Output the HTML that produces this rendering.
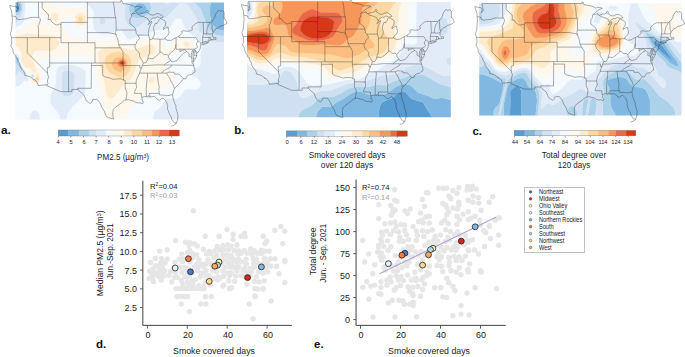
<!DOCTYPE html><html><head><meta charset="utf-8"><style>
*{margin:0;padding:0;box-sizing:border-box}
html,body{width:685px;height:357px;background:#fff;overflow:hidden}
body{position:relative;font-family:"Liberation Sans",sans-serif;color:#1a1a1a}
svg{position:absolute;overflow:visible}
.t{position:absolute;white-space:nowrap;line-height:1}
.cbl{text-align:center;color:#333;letter-spacing:-0.1px}
.cbt{text-align:center;font-size:9.2px;color:#222;letter-spacing:-0.15px}
.yt{text-align:right;font-size:8.3px;color:#222;letter-spacing:0.35px}
.xt{text-align:center;font-size:8.3px;color:#222;letter-spacing:0.35px}
.pl{font-weight:bold;font-size:11.5px;color:#111}
.lg{font-size:6.1px;color:#222;letter-spacing:-0.1px}
.leg{position:absolute;left:524.4px;top:187.0px;width:60.3px;height:66.0px;border:0.8px solid #c2c2c2}
.r2{font-size:7.4px;letter-spacing:-0.2px}
.yl{position:absolute;font-size:9.0px;color:#222;text-align:center;transform:rotate(-90deg);transform-origin:center center;white-space:nowrap;line-height:1;width:120px}
.xl{font-size:9.0px;color:#222;text-align:center;width:120px}
</style></head><body>
<svg class="map" style="left:15px;top:2px" width="209" height="118">
<defs><clipPath id="clipa"><rect x="0" y="0" width="208.5" height="117.2"/></clipPath></defs>
<g transform="translate(0.50,0.40)">
<g clip-path="url(#clipa)"><rect x="0" y="0" width="208.5" height="117.2" fill="#f5faff"/>
<path d="M1.6,7.6L3.1,7.4L4.0,5.3L3.1,3.1L1.6,2.5L0.5,3.3L0.2,5.3Z" fill="#589cd2" stroke="#589cd2" stroke-width="0.3" fill-rule="evenodd"/>
<path d="M203.7,27.7L207.5,28.1L211.2,27.2L211.2,-3.8L195.9,-3.8L193.9,8.4L195.1,16.5L196.5,20.5L198.4,23.8L200.7,26.0ZM122.3,11.5L126.8,11.6L130.4,9.4L131.4,7.3L131.3,5.3L129.0,2.2L126.8,1.1L123.8,0.7L121.5,1.6L119.6,3.3L118.6,5.3L118.8,8.4L120.2,10.4ZM0.1,9.9L2.4,10.2L4.6,8.5L5.5,6.3L5.3,3.3L2.0,-3.8L-3.7,-3.8L-3.7,3.7L-1.3,8.4ZM1.2,7.3L0.5,6.3L0.2,4.3L0.9,2.8L2.4,2.6L3.9,4.2L3.9,6.3L3.1,7.4Z" fill="#80b8e1" stroke="#80b8e1" stroke-width="0.3" fill-rule="evenodd"/>
<path d="M17.5,74.3L17.5,73.3L17.5,73.2L17.4,73.3ZM6.1,67.9L6.2,66.2L2.9,59.1L3.0,56.0L2.4,55.0L-0.6,54.7L-1.1,56.0L-0.1,60.1ZM201.4,32.9L206.0,33.7L211.2,32.8L211.2,27.2L206.7,28.2L203.5,27.6L199.9,25.4L196.9,21.4L195.1,16.5L193.9,9.4L195.9,-3.8L177.6,-3.8L178.3,0.2L183.3,4.3L185.6,7.3L190.7,21.5L192.7,25.6L196.9,30.3ZM119.2,15.5L123.0,16.1L127.5,15.0L132.1,12.5L134.8,9.4L135.7,6.3L135.3,3.3L131.4,-3.8L116.9,-3.8L114.0,3.3L113.4,8.4L114.9,12.4L117.0,14.4ZM121.9,11.4L119.3,9.4L118.5,7.3L118.6,5.3L120.0,2.8L122.3,1.2L124.5,0.7L127.5,1.4L129.8,2.9L130.9,4.3L131.5,6.3L130.4,9.4L126.8,11.6L123.8,11.9ZM0.1,13.5L3.9,11.7L5.4,10.0L6.5,7.3L6.4,2.3L4.1,-3.8L2.0,-3.8L5.5,4.3L5.2,7.3L3.9,9.3L1.6,10.3L0.1,9.9L-1.3,8.4L-3.7,3.7L-3.7,10.3L-1.4,12.8Z" fill="#acd2ea" stroke="#acd2ea" stroke-width="0.3" fill-rule="evenodd"/>
<path d="M47.6,93.7L49.9,94.3L53.6,93.6L56.7,92.4L58.3,90.5L59.4,73.3L58.9,71.2L56.7,69.1L52.9,68.4L49.1,68.7L47.6,69.3L46.3,71.2L46.4,89.5ZM9.9,74.5L10.2,73.3L9.7,71.2L4.1,60.1L3.8,56.0L3.1,54.3L-2.1,51.1L-3.5,50.9L-3.7,72.7L2.4,72.5L3.1,71.2L3.1,69.0L3.9,68.9L7.7,73.0ZM5.4,67.2L-0.1,60.1L-1.1,56.0L-0.6,54.7L2.4,55.0L3.0,56.0L2.9,59.1L6.2,66.2L6.1,67.9ZM15.9,74.3L17.5,75.1L18.7,74.3L18.7,73.3L17.5,72.4L16.7,72.5L15.9,73.3ZM17.4,74.3L17.4,73.3L17.5,73.2L17.5,74.3ZM202.2,39.9L206.0,40.1L211.2,39.6L211.2,32.8L206.0,33.7L202.9,33.4L198.4,31.5L195.1,28.6L191.1,22.6L185.6,7.3L183.3,4.3L178.3,0.2L177.6,-3.8L155.9,-3.8L155.4,-0.5L153.2,1.2L150.9,1.9L148.1,0.2L147.5,-3.8L131.4,-3.8L135.3,3.3L135.7,6.3L134.8,9.4L132.8,11.8L129.8,14.0L123.0,16.1L117.7,14.8L115.8,13.4L114.3,11.4L113.4,8.4L113.5,5.3L116.9,-3.8L111.3,-3.8L109.1,6.3L109.2,14.4L110.5,19.5L113.2,23.4L114.7,24.7L118.5,25.7L122.3,24.9L126.2,21.5L131.2,18.5L140.4,15.1L142.6,14.9L147.9,15.9L150.2,15.5L164.5,1.2L166.0,0.4L168.3,0.1L170.5,0.9L173.0,3.3L179.8,13.4L182.3,19.5L182.7,26.6L184.1,29.6L197.7,38.5ZM86.1,22.6L88.7,21.5L90.0,19.5L89.1,16.5L87.6,15.2L86.1,14.9L84.6,16.3L83.7,19.5L84.6,21.8ZM-2.9,20.9L0.1,20.9L2.2,19.5L7.1,10.4L8.1,4.3L6.4,-3.8L4.1,-3.8L6.1,1.2L6.8,4.3L6.5,7.3L5.4,10.0L3.1,12.3L0.1,13.5L-1.4,12.8L-3.7,10.3L-3.7,20.9Z" fill="#cee0f2" stroke="#cee0f2" stroke-width="0.3" fill-rule="evenodd"/>
<path d="M14.4,120.9L24.0,120.9L24.5,116.9L24.1,112.8L22.7,109.9L20.5,108.1L18.2,108.0L15.1,110.8L13.9,115.8ZM43.8,120.9L51.7,120.9L51.2,115.8L52.3,110.8L56.7,104.9L68.1,93.5L69.7,90.5L70.4,71.2L70.0,69.2L68.0,66.7L61.2,63.4L55.9,62.5L46.9,62.7L43.1,64.2L41.0,67.2L40.2,81.4L38.6,86.0L35.1,91.5L34.6,98.6L35.8,102.7L43.3,111.8L44.2,115.8ZM47.5,93.5L46.4,89.5L46.3,71.2L47.6,69.3L49.1,68.7L52.9,68.4L56.7,69.1L58.9,71.2L59.4,73.3L58.3,90.5L56.7,92.4L53.6,93.6L49.1,94.3ZM138.1,120.9L211.2,120.9L211.2,39.6L204.4,40.1L199.2,39.2L184.2,29.7L182.9,27.6L182.3,19.5L180.3,14.4L174.3,4.9L169.8,0.4L167.5,0.1L164.5,1.2L150.2,15.5L147.1,15.9L141.9,14.8L138.8,15.5L129.4,19.5L122.3,24.9L118.5,25.7L116.2,25.3L114.0,24.2L111.1,20.5L109.7,17.5L109.0,12.4L109.0,7.3L111.3,-3.8L69.4,-3.8L70.1,0.2L75.3,5.3L77.6,8.4L78.1,10.4L77.4,19.5L77.8,24.8L79.7,28.6L83.1,30.7L88.3,31.9L94.4,31.7L96.8,30.7L101.3,27.6L104.2,26.9L106.4,28.9L111.7,36.3L114.0,37.7L121.5,34.5L134.2,30.7L141.1,27.8L152.4,26.6L155.4,24.4L157.9,19.5L160.0,17.1L161.5,16.3L163.7,16.3L166.0,17.5L168.7,24.6L172.9,29.7L184.0,37.8L186.7,40.8L186.8,44.9L184.6,52.0L185.2,59.1L184.8,61.4L183.0,64.1L177.3,67.7L175.7,70.2L175.8,71.3L177.1,73.3L182.0,76.3L184.1,78.3L185.1,81.4L184.1,84.4L182.6,86.1L180.3,87.2L172.0,86.7L169.8,87.2L167.6,89.5L164.2,94.5L161.5,96.4L153.2,95.8L150.9,96.6L145.6,104.2L140.4,108.1L138.4,110.8L137.7,115.8ZM85.6,22.6L83.8,20.5L83.8,18.5L85.3,15.2L86.8,15.0L89.1,16.5L90.0,19.5L88.7,21.5ZM-2.9,84.2L3.1,83.9L5.4,82.6L8.4,78.7L9.2,78.3L12.2,79.4L13.0,78.3L12.5,75.3L11.0,71.2L5.2,61.1L3.9,54.0L2.4,52.1L-3.7,48.1L-3.7,51.2L-2.9,50.8L3.1,54.3L3.8,56.0L4.1,60.1L9.3,70.2L10.2,73.3L9.9,74.5L9.2,74.3L3.9,68.9L3.1,69.0L3.1,71.2L2.4,72.5L-3.7,72.7L-3.7,84.2ZM15.9,75.6L17.5,75.8L19.0,74.8L19.4,73.3L18.8,72.2L17.5,71.6L15.6,72.2L14.9,74.3ZM15.9,74.3L15.9,73.3L16.7,72.5L17.5,72.4L18.7,73.3L18.7,74.3L17.5,75.1ZM-2.9,25.2L0.1,25.1L3.1,24.0L6.8,21.5L8.2,19.5L10.2,6.3L9.1,-3.8L6.4,-3.8L8.1,4.3L8.0,7.3L6.9,10.9L1.6,20.1L0.1,20.9L-3.7,20.9L-3.7,25.2ZM149.4,1.4L151.7,1.8L154.7,0.2L155.6,-0.8L155.9,-3.8L147.5,-3.8L147.6,-0.8Z" fill="#e2ecf8" stroke="#e2ecf8" stroke-width="0.3" fill-rule="evenodd"/>
<path d="M-2.9,120.9L14.4,120.9L13.9,116.9L14.7,111.8L16.7,108.9L19.0,107.8L22.0,109.2L23.8,111.8L24.5,116.9L24.0,120.9L43.6,120.9L44.3,116.9L43.7,112.8L42.0,109.8L35.2,101.6L34.5,97.6L34.8,92.5L35.6,90.3L38.6,86.0L40.1,82.0L40.5,70.2L41.6,65.9L43.1,64.2L45.3,63.1L52.1,62.4L58.2,62.7L64.2,64.5L68.7,67.3L70.0,69.2L70.4,71.2L70.0,87.5L69.4,91.5L65.0,97.0L56.7,104.9L52.3,110.8L51.2,115.8L51.7,120.9L88.5,120.9L86.3,102.7L85.4,90.5L81.2,75.3L79.3,60.1L77.8,56.2L76.3,54.0L74.8,53.1L71.7,52.8L60.4,53.8L49.1,53.8L39.3,55.5L29.5,55.6L27.3,56.3L25.0,58.1L24.1,61.1L26.0,74.3L25.9,77.3L24.2,80.6L22.7,82.0L19.7,83.4L17.5,82.1L15.3,78.3L15.4,77.3L19.2,75.3L20.1,73.3L19.8,72.2L17.5,70.8L13.7,71.7L12.9,71.2L8.4,65.3L6.1,61.4L5.4,59.1L5.1,55.0L3.9,51.8L0.9,48.2L-3.7,46.0L-3.7,48.1L2.4,52.1L3.9,54.0L5.2,61.1L11.0,71.2L12.5,75.3L13.0,78.3L12.2,79.4L9.2,78.3L8.4,78.7L5.4,82.6L3.1,83.9L-3.7,84.2L-3.7,120.9ZM15.5,75.3L14.9,74.3L15.6,72.2L17.5,71.6L19.0,72.4L19.3,74.3L18.5,75.3L16.7,75.8ZM110.2,120.9L137.9,120.9L137.8,113.8L138.8,109.9L140.4,108.1L145.6,104.2L150.9,96.6L153.2,95.8L161.5,96.4L164.2,94.5L167.6,89.5L169.8,87.2L172.0,86.7L179.6,87.3L181.8,86.6L183.4,85.4L184.9,82.4L184.7,79.3L182.6,76.7L177.1,73.3L175.8,71.3L175.7,70.2L177.3,67.7L183.3,63.8L185.0,61.1L184.6,52.0L187.0,43.8L187.0,41.8L186.2,39.8L172.9,29.7L168.7,24.6L166.0,17.5L164.6,16.5L163.0,16.2L160.7,16.5L159.5,17.5L155.4,24.4L153.2,26.3L150.9,27.0L141.1,27.8L134.2,30.7L121.5,34.5L114.0,37.7L111.7,36.3L106.4,28.9L104.2,26.9L101.3,27.6L96.8,30.7L94.4,31.7L89.8,32.0L84.6,31.3L80.8,29.6L78.3,26.6L77.4,20.5L78.0,9.4L76.2,6.3L70.1,0.2L69.4,-3.8L32.2,-3.8L32.4,-0.8L33.1,0.2L37.8,2.8L53.6,5.6L65.7,4.9L68.7,6.5L71.5,9.4L73.1,14.4L73.0,20.5L71.0,24.1L68.0,25.8L65.0,25.9L60.4,23.6L58.6,21.5L55.9,16.4L53.6,14.5L49.9,14.6L48.4,15.5L46.9,17.6L45.5,20.5L45.9,22.6L51.4,31.7L53.6,34.1L56.7,35.9L67.2,35.5L78.5,37.7L90.6,38.5L103.4,37.3L109.4,41.8L114.0,43.3L117.0,42.5L124.5,38.3L141.1,34.7L143.4,35.1L146.3,36.8L150.9,43.1L152.4,44.0L153.9,44.0L155.4,43.1L157.4,39.8L161.1,36.8L164.5,35.0L167.5,34.2L169.8,34.1L172.0,35.0L175.0,37.1L177.6,39.8L177.9,41.8L176.5,44.9L175.0,46.5L172.0,48.3L168.3,48.9L160.0,47.6L157.7,48.4L148.4,60.1L148.4,62.1L149.4,63.8L156.2,69.7L157.8,72.2L158.3,77.3L156.8,81.4L153.2,83.5L145.6,85.3L139.6,88.1L131.3,89.5L128.3,91.3L110.6,110.8L109.2,115.8L109.3,118.9L109.8,120.9ZM-2.9,29.0L0.9,28.9L8.4,26.0L12.3,23.6L16.7,18.5L19.0,17.0L20.5,16.8L22.7,17.4L25.7,20.8L28.0,22.2L29.5,22.3L31.8,20.9L31.6,18.5L27.5,13.4L26.5,11.4L25.7,5.3L25.5,-3.8L9.1,-3.8L10.2,6.3L8.2,19.5L6.1,22.1L2.4,24.4L0.1,25.1L-3.7,25.2L-3.7,29.0Z" fill="#f5faff" stroke="#f5faff" stroke-width="0.3" fill-rule="evenodd"/>
<path d="M89.1,120.9L109.8,120.9L109.2,115.8L110.6,110.8L128.3,91.3L131.3,89.5L139.6,88.1L145.6,85.3L153.2,83.5L156.8,81.4L158.3,77.3L157.8,72.2L156.2,69.7L149.4,63.8L148.4,62.1L148.4,60.1L157.7,48.4L160.0,47.6L168.3,48.9L172.0,48.3L175.0,46.5L176.5,44.9L177.9,41.8L177.6,39.8L175.0,37.1L172.0,35.0L169.8,34.1L167.5,34.2L164.5,35.0L161.1,36.8L157.4,39.8L155.4,43.1L153.9,44.0L152.4,44.0L150.9,43.1L146.3,36.8L143.4,35.1L141.1,34.7L124.5,38.3L117.0,42.5L114.0,43.3L109.4,41.8L103.4,37.3L90.6,38.5L78.5,37.7L67.2,35.5L56.7,35.9L54.4,34.7L52.1,32.6L46.5,23.6L45.5,20.5L46.3,18.5L49.1,15.0L51.4,14.2L53.6,14.5L55.2,15.4L58.6,21.5L61.2,24.1L65.7,26.0L68.7,25.6L71.7,23.2L73.2,19.5L73.0,13.4L72.1,10.4L71.0,8.7L68.0,6.0L65.7,4.9L53.6,5.6L38.6,3.0L33.1,0.2L32.4,-0.8L32.2,-3.8L25.5,-3.8L25.7,5.3L26.5,11.4L27.5,13.4L31.6,18.5L31.8,20.9L29.5,22.3L28.0,22.2L25.7,20.8L22.7,17.4L20.5,16.8L19.0,17.0L16.7,18.5L12.3,23.6L8.4,26.0L0.9,28.9L-3.7,29.0L-3.7,34.2L0.9,34.0L10.7,31.7L37.1,33.4L39.8,34.7L42.8,37.8L43.9,39.8L43.4,41.8L40.4,45.9L37.8,47.9L34.0,48.3L28.0,47.8L22.7,47.9L19.7,48.5L17.5,49.9L16.7,52.0L17.0,56.0L18.2,62.0L20.5,67.5L20.5,70.1L17.9,69.2L14.4,65.8L10.7,65.0L8.4,63.1L6.6,59.1L5.5,48.9L3.1,45.3L0.9,43.8L-3.7,43.2L-3.7,46.0L0.9,48.2L3.9,51.8L5.1,55.0L5.4,59.1L6.1,61.4L8.4,65.3L12.9,71.2L13.7,71.7L17.5,70.8L19.8,72.2L20.1,73.3L19.2,75.3L15.4,77.3L15.3,78.3L17.5,82.1L19.7,83.4L22.7,82.0L24.2,80.6L25.9,77.3L26.0,74.3L24.1,61.1L25.0,58.1L27.3,56.3L29.5,55.6L39.3,55.5L49.1,53.8L60.4,53.8L71.7,52.8L74.8,53.1L76.3,54.0L77.8,56.2L79.3,60.1L81.2,75.3L85.4,90.5L86.4,103.7L88.5,120.9ZM93.4,95.6L92.1,94.0L91.2,91.5L88.6,77.3L84.2,63.1L82.7,50.9L84.1,47.9L85.3,46.9L88.3,45.7L98.1,44.2L103.4,44.3L112.5,47.3L116.2,47.6L121.5,46.9L132.8,42.5L136.6,42.6L138.8,43.7L139.4,46.9L138.9,48.9L137.6,50.9L133.6,53.3L126.0,55.4L123.0,58.0L117.6,72.2L114.0,78.3L106.6,84.4L101.3,91.5L98.3,94.5L95.1,96.2ZM134.7,80.4L133.4,78.3L134.1,76.3L135.8,75.2L138.1,75.7L139.1,77.3L138.7,79.3L136.6,80.7ZM18.3,79.3L17.7,78.3L17.9,77.3L19.9,75.3L21.2,72.4L22.0,71.9L23.5,73.3L24.3,75.3L23.8,78.3L21.2,80.1L19.7,80.1ZM169.4,43.8L168.4,41.8L168.4,40.8L169.2,39.8L171.3,39.4L173.5,40.7L173.9,42.8L172.8,44.2L171.3,44.6ZM63.0,21.5L61.2,20.1L60.2,18.5L60.0,14.4L61.2,12.2L62.7,10.9L66.5,10.4L68.7,12.4L69.8,14.4L70.2,17.5L69.7,19.5L68.1,21.5L66.5,22.4ZM37.0,17.5L35.7,14.4L36.3,11.9L38.1,10.4L40.8,10.9L42.6,13.4L42.3,16.5L40.1,18.3L38.6,18.3Z" fill="#fef7ec" stroke="#fef7ec" stroke-width="0.3" fill-rule="evenodd"/>
<path d="M93.6,95.8L95.9,96.0L98.9,94.1L106.6,84.4L114.7,77.3L117.6,72.2L122.3,59.6L123.8,57.1L126.0,55.4L133.6,53.3L137.6,50.9L138.9,48.9L139.5,45.9L139.0,43.8L138.1,43.1L135.8,42.5L132.1,42.6L121.5,46.9L117.0,47.6L112.5,47.3L103.4,44.3L97.4,44.3L87.8,45.9L85.3,46.9L83.8,48.2L82.7,50.9L84.4,64.1L88.6,77.3L91.3,92.2ZM103.1,75.3L95.9,71.5L93.6,69.7L90.7,65.1L89.3,60.1L90.5,55.0L93.0,52.0L95.9,50.5L101.9,49.5L107.2,50.1L112.5,52.4L115.2,56.0L115.9,60.1L114.9,66.2L112.2,71.2L107.9,74.6L104.9,75.5ZM135.1,80.5L137.3,80.5L138.8,79.0L138.8,76.7L137.3,75.3L135.1,75.5L133.6,77.3L133.7,79.3ZM19.0,79.8L22.0,79.9L23.5,78.7L24.2,77.3L24.0,74.3L22.0,71.9L21.2,72.4L19.9,75.3L17.9,77.3L17.7,78.3ZM19.5,78.3L19.2,77.3L21.2,74.7L22.0,74.4L22.7,74.9L23.2,76.3L22.7,77.7L21.2,78.7ZM18.2,69.3L20.5,70.1L20.8,69.2L17.5,58.6L16.7,53.0L17.5,49.9L19.7,48.5L22.7,47.9L28.0,47.8L34.0,48.3L37.8,47.9L40.4,45.9L42.8,42.8L43.8,40.8L43.4,38.8L39.8,34.7L36.3,33.4L10.7,31.7L0.9,34.0L-3.7,34.2L-3.7,43.2L0.9,43.8L3.1,45.3L4.6,47.1L5.8,49.9L6.6,59.1L7.7,62.0L9.9,64.6L14.4,65.8ZM169.8,44.1L172.0,44.5L173.5,43.4L174.0,41.8L172.8,40.0L170.5,39.4L169.0,40.0L168.4,41.8ZM63.4,21.8L65.7,22.4L67.2,22.1L69.2,20.5L70.0,18.5L70.2,16.5L69.5,13.7L68.0,11.5L66.5,10.4L62.7,10.9L61.2,12.2L60.0,14.4L60.2,18.5L61.6,20.5ZM63.3,18.5L62.3,16.5L62.7,15.1L64.2,14.0L66.3,14.4L67.3,16.5L66.6,18.5L65.0,19.1ZM37.1,17.6L38.6,18.3L40.1,18.3L42.3,16.5L42.6,13.4L41.6,11.6L40.1,10.6L37.8,10.4L36.1,12.4L35.8,15.5Z" fill="#feeacc" stroke="#feeacc" stroke-width="0.3" fill-rule="evenodd"/>
<path d="M19.7,78.5L21.2,78.7L22.7,77.7L23.2,76.3L22.7,74.9L22.0,74.4L20.5,75.5L19.2,77.3ZM103.4,75.4L105.7,75.4L108.7,74.2L113.0,70.2L114.5,67.2L115.6,63.1L115.9,60.1L115.5,57.0L113.2,53.1L108.7,50.5L102.7,49.4L95.9,50.5L93.0,52.0L90.5,55.0L89.4,59.1L89.9,63.1L91.7,67.2L94.4,70.4ZM103.0,69.2L99.6,67.4L97.5,65.1L96.3,62.1L96.3,60.1L98.1,57.1L100.4,55.6L104.2,54.5L107.2,54.8L109.4,55.8L111.5,58.0L112.1,60.1L111.8,63.1L110.2,66.1L107.9,68.3L105.7,69.4ZM63.4,18.7L65.0,19.1L66.6,18.5L67.3,16.5L66.3,14.4L64.2,14.0L62.7,15.1L62.5,17.5Z" fill="#fcd8a0" stroke="#fcd8a0" stroke-width="0.3" fill-rule="evenodd"/>
<path d="M103.4,69.3L105.7,69.4L108.7,67.7L111.0,65.0L112.1,62.1L112.1,60.1L111.0,57.2L109.4,55.8L107.2,54.8L104.2,54.5L100.4,55.6L98.1,57.1L96.3,60.1L96.5,63.1L98.1,66.0L100.4,68.0ZM103.3,64.1L102.4,63.1L101.9,61.1L103.2,58.0L106.4,56.6L109.4,57.9L110.6,61.1L109.4,63.6L106.4,65.1Z" fill="#fbbe80" stroke="#fbbe80" stroke-width="0.3" fill-rule="evenodd"/>
<path d="M103.4,64.2L106.4,65.1L109.4,63.6L110.6,61.1L109.4,57.9L106.4,56.6L103.2,58.0L101.9,61.1L102.4,63.1ZM105.2,63.1L103.8,61.1L104.3,59.1L105.7,58.0L107.9,58.1L109.4,60.1L109.1,62.1L107.2,63.5Z" fill="#f6965a" stroke="#f6965a" stroke-width="0.3" fill-rule="evenodd"/>
<path d="M105.7,63.4L107.9,63.2L109.5,61.1L109.0,59.1L107.2,57.9L104.9,58.4L103.8,60.1L104.1,62.1ZM106.0,62.1L105.1,61.1L105.2,60.1L106.1,59.1L107.2,59.0L108.3,60.1L108.4,61.1L107.2,62.3Z" fill="#ea6848" stroke="#ea6848" stroke-width="0.3" fill-rule="evenodd"/>
<path d="M106.4,62.3L107.5,62.1L108.4,61.1L108.3,60.1L107.2,59.0L106.1,59.1L105.2,60.1L105.1,61.1Z" fill="#d63818" stroke="#d63818" stroke-width="0.3" fill-rule="evenodd"/>
</g>
<path d="M1.4,-0.3L2.0,2.3L2.6,5.3L2.9,6.8L2.2,8.4L0.9,9.4L1.6,6.8L1.8,5.3L0.1,4.0L-2.9,3.8L-5.9,2.9L-5.5,4.8L-4.0,8.4L-3.7,10.4L-3.5,13.6L-3.1,17.5L-3.5,22.0L-3.8,26.6L-4.4,29.1L-5.4,31.2L-4.0,35.2L-3.7,38.3L-3.8,41.3L-4.8,43.3L-2.7,46.9L-2.1,50.7L0.5,54.2L0.7,55.5L2.4,56.5L2.4,58.6L3.9,60.8L4.6,62.6L4.8,64.4L6.7,67.2L8.6,69.5L9.3,71.2L9.5,73.0L11.8,73.5L14.4,74.3L16.3,75.7L17.8,76.6L17.8,77.3L19.3,77.6L20.5,78.6L22.0,80.6L22.7,83.2L31.7,82.3L31.4,83.4L45.5,89.3L56.3,89.3L56.3,87.0L62.6,87.0L63.8,88.7L66.1,90.5L68.3,92.5L69.9,96.1L70.6,98.1L72.9,99.9L74.9,101.2L76.3,99.9L77.2,97.3L79.3,97.1L81.9,97.2L83.8,99.6L85.3,102.2L86.1,104.7L88.0,107.5L89.1,109.3L89.8,112.0L91.0,114.1L93.2,115.3L95.7,116.1L97.9,116.6L97.4,113.3L97.2,109.8L97.9,107.0L100.0,104.7L102.7,102.9L105.7,100.6L107.0,99.4L109.1,97.8L110.4,97.6L112.8,97.2L115.5,98.1L118.1,98.6L120.4,100.1L122.6,100.6L124.5,100.4L127.2,101.4L127.9,99.6L126.4,97.6L126.8,95.8L126.4,95.1L128.3,94.3L130.9,94.1L132.1,94.8L132.8,93.0L133.9,94.7L136.2,94.3L138.5,94.0L140.9,95.6L142.4,97.6L144.1,97.8L146.0,96.3L147.7,95.8L149.8,98.1L151.3,100.4L152.2,103.2L152.0,106.2L152.8,108.7L153.9,111.5L155.6,114.3L156.2,116.9L158.1,119.4L159.2,120.7L161.1,120.4L161.7,118.4L162.2,116.4L162.4,112.3L161.5,109.3L160.3,105.2L160.5,103.4L159.4,101.1L158.1,98.1L157.5,95.6L157.1,92.5L157.7,90.0L158.3,87.5L159.2,85.7L160.9,84.2L163.0,82.1L165.2,79.8L166.6,77.8L168.1,76.5L170.3,76.3L171.3,74.0L173.3,72.5L175.8,72.2L177.7,70.5L179.6,69.5L179.4,66.7L178.4,64.4L178.1,62.9L177.8,61.1L176.5,60.6L176.5,57.5L176.4,55.3L175.8,53.0L176.2,50.4L176.9,48.4L177.5,47.7L177.9,49.9L177.3,52.5L177.9,55.0L177.8,59.8L178.8,58.0L180.3,55.5L181.3,53.2L181.1,51.5L180.1,49.9L179.4,47.4L179.9,48.4L181.1,49.4L181.6,50.8L182.8,49.4L184.1,47.4L184.8,45.9L185.2,43.1L185.2,42.2L185.6,42.4L187.9,42.2L190.5,41.3L193.1,39.9L191.3,40.3L189.0,40.6L186.4,41.0L186.5,40.3L188.2,39.5L189.7,39.0L192.0,38.8L193.3,38.7L194.8,38.3L195.6,36.8L196.0,37.8L196.9,37.3L197.8,37.5L199.2,37.0L200.5,37.0L200.5,35.5L200.1,35.0L199.5,35.0L198.2,36.2L198.0,35.2L196.9,33.7L197.1,32.4L197.3,30.9L197.7,29.9L198.8,28.4L199.5,26.9L201.1,26.1L202.9,25.3L204.8,23.6L206.3,23.6L208.2,22.8L210.1,21.8L211.6,20.8L211.0,19.3L209.9,17.0L208.6,16.5L208.6,9.5L206.7,8.1L204.4,8.9L203.1,7.6L200.3,11.4L199.2,15.2L197.3,18.0L196.2,18.5L194.6,20.0L187.7,20.0L182.6,20.0L180.3,21.0L178.1,23.1L176.4,24.6L176.9,27.4L175.0,28.4L171.6,28.9L168.3,28.3L166.2,28.8L166.6,30.4L166.7,30.9L164.5,32.9L162.2,34.5L160.6,35.3L158.5,36.2L156.2,37.8L154.3,38.0L152.4,38.0L150.9,37.3L149.5,36.6L149.8,35.2L150.9,34.2L151.7,33.2L152.8,32.4L153.4,30.4L153.6,29.9L153.0,27.1L152.6,24.8L151.3,24.8L150.0,25.6L147.9,27.1L147.9,25.3L149.8,23.6L150.2,21.5L150.2,19.8L149.0,18.2L146.8,17.0L144.7,16.1L143.8,17.0L143.0,19.0L141.7,20.3L141.5,21.3L139.8,20.8L139.0,22.6L138.1,25.1L138.3,27.6L139.0,30.4L138.8,32.7L137.7,34.7L136.8,36.4L135.5,37.2L134.2,36.8L133.8,35.5L133.1,32.7L132.8,30.2L133.4,27.6L133.6,25.6L134.3,23.8L135.1,22.0L136.2,20.5L136.0,18.8L134.3,20.8L132.8,22.3L132.4,22.0L133.8,20.3L133.9,19.5L134.7,18.0L136.0,16.5L138.1,15.5L139.6,15.7L141.7,14.4L143.8,15.0L144.7,15.6L146.0,15.2L147.1,15.1L147.9,14.7L147.1,13.7L145.8,12.4L145.3,12.7L143.6,11.1L140.7,11.4L138.1,12.7L134.7,12.4L133.6,10.9L131.7,10.1L132.8,8.9L131.7,7.6L130.6,8.6L130.6,9.9L128.7,10.6L126.4,10.9L123.4,12.1L121.7,11.7L121.3,10.1L120.0,10.9L118.1,11.4L117.0,11.1L118.1,10.1L119.6,8.9L122.3,6.8L124.5,5.6L126.4,4.8L124.9,4.3L121.9,3.8L119.2,4.6L117.4,3.3L115.1,2.5L112.1,1.8L109.8,1.5L107.4,1.0L106.4,-1.3L105.5,-2.2L105.5,-0.3L71.9,-0.3L26.7,-0.3L1.4,-0.3ZM161.1,120.4L160.5,121.4L159.2,122.4L157.7,123.2L155.8,123.7M-3.5,13.6L-1.0,13.9L0.5,14.4L1.2,16.7L3.5,17.2L7.3,16.7L10.7,16.4L13.7,15.4L15.6,15.0L23.4,15.0M23.0,-0.3L23.0,12.8L23.4,15.0L24.6,16.2L25.0,17.7L24.1,20.0L23.5,22.0L22.4,23.6L23.1,26.1L23.0,35.2M-4.0,35.2L45.5,35.2M11.8,35.2L11.8,50.4L32.0,70.7L32.3,72.7L33.1,74.3L32.5,76.3L31.8,78.8L32.5,80.9L31.7,82.3M32.0,70.7L31.8,67.7L31.8,65.4L34.2,64.6L34.2,60.6M34.2,35.2L34.2,60.6M34.2,60.6L75.9,60.6M75.9,60.6L107.5,60.6M53.1,60.6L53.1,89.3M53.1,60.6L53.1,40.3M45.5,35.2L45.5,40.3L71.9,40.3L79.5,40.3L79.5,45.4M45.5,35.2L45.5,20.0M45.5,22.6L44.2,21.5L40.8,22.6L38.2,21.0L36.3,19.5L34.8,17.0L32.5,17.2L33.1,15.0L32.9,11.9L31.8,11.4L29.5,8.6L28.0,7.6L26.7,5.1L26.7,-0.3M45.5,20.0L71.9,20.0M71.9,-0.3L71.9,40.3M79.5,45.4L79.5,60.6M71.9,15.3L100.2,15.3M71.9,30.2L92.9,30.2L95.5,30.9L98.5,31.3L100.0,31.7L100.6,32.7M79.5,45.4L104.9,45.4M100.6,32.7L101.1,34.2L102.1,36.2L102.7,38.8L103.0,41.3L103.2,42.3L104.9,45.4M104.9,45.4L106.4,47.7L107.6,49.7L107.5,60.6M75.9,60.6L75.9,63.1L87.2,63.1L87.2,73.0L88.7,73.9L90.2,74.8L92.5,75.0L94.7,75.8L96.2,76.3L97.8,77.1L100.0,76.6L102.3,76.6L104.2,76.4L106.0,76.6L107.9,77.7L109.7,78.1M75.9,63.1L75.7,85.9L62.2,85.9L62.6,87.0M107.5,60.6L107.5,63.1L108.1,68.7L108.0,77.6M109.7,78.1L109.7,80.9L120.6,80.9M109.7,80.9L109.7,85.9L110.6,88.0L111.5,90.0L111.3,92.5L111.0,94.5L110.4,97.6M120.6,80.9L120.8,82.9L121.1,84.9L119.6,88.0L119.1,90.0L118.9,91.0L125.9,91.0L125.8,93.0L126.4,95.1M131.7,70.7L132.1,72.7L131.5,77.3L130.7,86.4L130.9,94.1M120.6,80.9L120.8,78.3L121.5,75.8L122.6,73.8L123.8,71.7L124.1,70.7L124.7,68.7L125.3,67.2L126.0,65.6L126.8,63.1L127.9,60.6M107.5,63.1L124.3,63.1L124.5,65.6L126.0,65.6M103.2,42.3L119.6,42.3M119.6,42.3L119.4,44.4L120.4,46.9L122.3,48.9L124.1,51.2L124.0,53.5L124.9,55.5L126.4,57.5L127.0,59.1L127.9,60.6M100.6,27.6L120.3,27.6M100.6,32.7L100.0,30.2L100.6,27.6L100.6,18.5L100.2,15.3L99.3,11.9L99.1,8.4L98.5,3.8L97.6,-0.3M120.3,27.6L120.8,31.4L122.4,32.7L124.1,36.2L122.6,37.8L121.1,39.3L120.8,41.3L119.6,42.3M120.3,27.6L119.2,25.1L116.2,22.6L114.3,21.3L114.5,18.5L114.3,17.0L116.2,14.4L116.2,11.7L117.0,11.1M122.4,32.7L133.1,32.7M123.4,12.1L124.5,13.4L128.3,14.4L132.1,16.0L133.2,18.2L133.9,19.5M134.2,36.8L134.2,48.4L133.9,51.2L132.8,54.0L132.3,56.5M132.3,56.5L131.7,58.0L130.6,60.1L127.9,60.6M136.9,36.4L144.5,36.8L149.5,36.6M144.5,36.8L144.4,49.9M144.4,49.9L143.0,51.7L141.9,52.5L140.5,54.0L138.8,55.0L137.7,56.0L135.8,56.3L133.9,55.8L132.3,56.5M144.4,49.9L145.8,49.9L147.5,51.5L148.8,52.3L151.3,52.0L152.8,53.4L154.1,51.7L155.1,50.4L156.0,49.4L157.7,48.7L159.4,46.6L160.0,44.4L160.3,42.2L160.6,42.1M160.6,42.1L160.6,35.3M160.6,42.1L160.6,46.8L164.6,46.8L164.6,49.4L166.0,48.2L167.5,47.7L169.0,47.3L170.9,48.8M170.9,48.8L170.1,49.9L168.6,50.4L166.9,51.7L165.2,53.5L163.7,55.5L162.2,57.3L161.5,58.3L159.4,58.8L157.7,59.3L156.2,59.6L155.2,57.8M152.8,53.4L153.0,55.0L153.7,56.5L155.2,57.8M155.2,57.8L153.6,59.1L150.9,60.8L148.7,62.6M148.7,62.6L140.0,62.5L132.3,63.1L126.8,63.1M148.7,62.6L156.4,62.6L178.1,62.9M156.4,62.6L155.2,64.6L152.8,65.9L150.9,66.9L149.0,67.9L147.5,68.9L146.3,70.7M146.3,70.7L124.1,70.7M146.3,70.7L150.9,70.7L153.6,69.7L158.6,70.0L159.2,71.7L163.7,71.7L168.1,76.5M150.9,70.7L152.4,73.0L154.3,75.8L155.4,78.8L157.1,81.4L158.3,84.4L159.2,85.7M141.5,70.7L143.0,81.4L143.8,83.9L143.4,86.9L143.8,91.0M143.8,91.0L144.1,92.5L151.3,93.0L154.3,93.2L154.9,92.3L157.1,92.5M143.8,91.0L133.9,91.0L134.5,94.0L133.9,94.7M163.5,33.9L163.5,35.2L180.1,35.2L181.1,36.2L182.6,38.5M182.6,38.5L185.2,40.3L185.2,41.8M182.6,38.5L181.1,41.1L181.3,43.1L182.4,44.4L181.1,45.6L179.6,46.4M179.6,46.4L178.5,46.8L164.6,46.8M178.5,46.8L178.8,53.2L181.3,53.2M170.9,48.8L172.0,49.9L173.5,50.8L173.9,52.5L173.2,53.7L175.4,54.7L176.5,55.8M177.9,55.8L179.2,55.8M187.7,20.0L187.7,22.6L187.9,25.1L188.0,27.4L188.0,31.4M188.0,31.4L187.1,35.0L187.1,38.8L186.5,40.3M194.6,20.0L194.1,21.5L192.6,23.3L191.6,26.6L191.3,29.1L191.1,31.5M188.0,31.4L191.1,31.5L195.4,31.7L197.1,30.8M187.1,35.0L193.5,35.1L195.1,35.1L195.2,36.5L196.0,37.8M193.5,35.1L193.3,38.7M196.2,18.5L196.5,23.1L196.7,27.1L197.7,29.9" fill="none" stroke="#2a2a2a" stroke-width="0.45" stroke-opacity="0.85" stroke-linejoin="round"/>
</g></svg>
<svg class="map" style="left:247px;top:2px" width="204" height="116">
<defs><clipPath id="clipb"><rect x="0" y="0" width="203.8" height="115.3"/></clipPath></defs>
<g transform="translate(0.00,0.00)">
<g clip-path="url(#clipb)"><rect x="0" y="0" width="203.8" height="115.3" fill="#f5faff"/>
<path d="M132.4,119.7L182.8,119.7L184.2,116.6L184.3,114.6L183.1,111.6L180.1,107.6L176.1,100.5L164.9,97.0L161.9,94.5L159.0,90.4L156.8,89.2L152.6,90.5L145.7,95.8L136.7,99.5L134.3,101.5L132.8,104.6L131.9,108.6L131.9,119.7Z" fill="#589cd2" stroke="#589cd2" stroke-width="0.3" fill-rule="evenodd"/>
<path d="M70.4,119.7L131.9,119.7L131.9,108.6L132.8,104.6L134.3,101.5L136.7,99.5L145.7,95.8L152.6,90.5L156.8,89.2L159.0,90.4L161.9,94.5L164.9,97.0L174.0,99.5L176.7,101.2L184.0,113.6L184.2,116.6L182.8,119.7L207.0,119.7L207.0,98.0L204.0,97.9L195.2,95.7L188.5,96.7L185.6,96.3L181.1,94.0L170.8,90.5L164.1,83.7L161.2,82.4L158.2,81.9L154.6,82.6L149.4,84.5L140.5,91.1L137.6,92.2L129.4,92.9L122.1,92.8L113.3,89.5L109.5,89.3L103.9,91.5L97.0,96.4L89.2,100.5L83.7,104.7L77.0,104.4L74.8,104.9L70.9,109.6L69.9,111.6L69.3,115.6Z" fill="#80b8e1" stroke="#80b8e1" stroke-width="0.3" fill-rule="evenodd"/>
<path d="M51.9,119.2L52.1,119.7L70.0,119.7L69.3,115.6L69.9,111.6L70.9,109.6L74.8,104.9L77.0,104.4L83.7,104.7L89.2,100.5L97.0,96.4L103.9,91.5L108.8,89.4L113.2,89.4L122.1,92.8L129.4,92.9L137.6,92.2L140.5,91.1L149.4,84.5L154.6,82.6L158.2,81.9L161.2,82.4L164.1,83.7L170.8,90.5L181.1,94.0L185.6,96.3L188.5,96.7L195.2,95.7L204.0,97.9L207.0,98.0L207.0,85.8L204.0,85.7L200.3,84.1L192.9,82.2L178.2,73.4L175.2,72.4L171.5,72.2L167.1,72.5L157.5,75.5L146.3,79.4L138.3,83.2L130.2,82.8L121.3,85.1L111.0,84.8L103.6,85.7L99.4,87.5L92.5,92.2L88.1,94.0L83.7,95.1L74.8,95.0L71.8,96.4L64.5,103.5L54.9,108.6L52.5,110.6L51.2,114.6Z" fill="#acd2ea" stroke="#acd2ea" stroke-width="0.3" fill-rule="evenodd"/>
<path d="M-2.7,119.7L52.1,119.7L51.2,114.6L52.7,110.4L54.9,108.6L64.5,103.5L70.4,97.5L74.1,95.2L83.7,95.1L87.4,94.2L92.5,92.2L101.3,86.4L104.8,85.4L111.0,84.8L120.6,85.2L130.2,82.8L139.0,83.0L147.2,79.1L167.1,72.5L172.3,72.2L176.7,72.8L181.1,74.9L192.2,81.9L200.3,84.1L204.0,85.7L207.0,85.8L207.0,73.4L199.6,74.0L195.2,73.5L176.0,63.4L172.3,63.0L166.4,63.5L159.7,65.5L154.7,69.3L149.4,71.8L139.8,72.9L128.7,75.5L114.7,80.6L100.6,81.6L84.4,88.4L74.8,88.7L71.8,89.5L63.0,93.8L56.3,96.3L54.1,95.3L52.2,92.5L49.8,79.4L46.7,73.5L44.0,70.3L42.4,69.3L37.9,68.5L35.5,70.3L33.2,75.4L31.2,77.6L29.0,78.9L23.2,80.4L18.7,82.3L12.0,83.1L-3.5,82.4L-3.5,119.7ZM203.3,63.5L207.0,63.7L207.0,55.0L201.8,55.5L200.3,56.5L199.3,58.3L199.3,60.3L199.9,61.3ZM194.4,33.5L197.4,33.2L199.1,32.1L200.3,30.0L200.9,26.1L200.7,21.0L199.9,18.0L198.1,16.2L195.2,15.4L193.6,16.0L191.5,18.5L190.4,24.1L191.2,30.1L192.6,32.1ZM1.0,12.2L3.2,11.1L4.4,7.0L4.2,2.9L2.4,-4.1L-3.5,-4.1L-3.5,8.7Z" fill="#cee0f2" stroke="#cee0f2" stroke-width="0.3" fill-rule="evenodd"/>
<path d="M54.9,95.9L56.3,96.3L58.6,95.7L73.3,89.0L85.1,88.2L100.6,81.6L114.7,80.6L128.7,75.5L139.8,72.9L148.6,72.0L153.1,70.3L160.5,65.1L166.4,63.5L172.3,63.0L176.0,63.4L195.2,73.5L199.6,74.0L207.0,73.4L207.0,63.7L204.0,63.6L201.8,62.9L199.9,61.3L199.1,59.3L199.7,57.3L201.8,55.5L207.0,55.0L207.0,-4.1L169.4,-4.1L169.1,27.1L170.0,37.1L169.8,39.2L168.9,41.2L166.4,42.7L160.5,41.8L158.2,42.1L156.0,45.0L152.1,54.2L149.4,57.5L139.0,62.2L130.9,67.9L121.3,71.4L116.2,75.2L112.5,76.9L99.2,78.0L82.9,81.9L64.9,83.4L62.3,82.6L60.0,81.3L53.0,70.3L49.3,67.3L46.0,65.6L40.8,64.6L36.4,64.9L32.7,67.0L29.0,71.4L26.8,72.1L24.6,71.6L17.2,68.3L5.4,66.0L3.2,64.9L0.2,61.9L-3.5,61.7L-3.5,82.4L12.0,83.1L18.7,82.3L30.5,78.1L32.7,76.1L36.3,69.3L37.9,68.5L40.8,68.8L44.5,70.8L48.5,76.4L50.1,80.4L51.9,91.6L53.4,94.5ZM193.8,33.1L191.8,31.1L190.8,29.1L190.7,21.0L191.2,19.0L192.5,17.0L194.4,15.5L195.9,15.5L198.9,16.8L200.3,19.0L200.9,23.1L200.7,28.1L200.3,30.1L198.9,32.3L195.9,33.5ZM0.2,15.3L1.7,15.4L3.2,14.6L4.5,13.0L5.4,10.5L5.9,3.9L4.9,-4.1L2.4,-4.1L4.4,4.9L4.1,9.0L3.2,11.1L1.7,12.2L0.4,12.0L-3.5,8.7L-3.5,13.0Z" fill="#e2ecf8" stroke="#e2ecf8" stroke-width="0.3" fill-rule="evenodd"/>
<path d="M65.2,83.5L82.9,81.9L98.4,78.1L111.0,77.3L113.9,76.4L121.3,71.4L130.9,67.9L139.0,62.2L149.4,57.5L152.1,54.2L156.0,45.0L158.2,42.1L160.5,41.8L166.4,42.7L167.8,42.1L169.5,40.2L170.0,38.1L169.1,27.1L169.4,-4.1L159.8,-4.1L160.4,6.0L160.1,17.0L160.6,29.1L159.7,31.1L155.3,36.0L151.3,46.2L148.6,51.1L144.2,54.7L133.7,59.3L120.6,66.3L113.9,71.7L111.0,73.3L92.5,75.9L83.7,76.4L79.2,74.4L75.1,69.3L72.6,67.8L65.9,65.9L57.1,64.8L47.5,61.2L34.2,61.1L30.5,61.7L23.9,64.2L14.3,64.2L9.8,63.8L7.6,63.0L1.0,58.2L-3.5,57.8L-3.5,61.7L0.2,61.9L4.7,65.7L17.9,68.5L26.1,72.0L28.3,71.9L32.7,67.0L36.4,64.9L40.8,64.6L46.0,65.6L49.3,67.3L53.0,70.3L60.0,81.3L62.3,82.6ZM-1.3,17.3L1.0,17.9L3.2,17.4L4.7,16.2L5.9,14.0L7.1,7.0L7.0,-4.1L4.9,-4.1L6.0,4.9L4.9,12.0L3.8,14.0L1.7,15.4L0.2,15.3L-3.5,13.0L-3.5,16.2Z" fill="#f5faff" stroke="#f5faff" stroke-width="0.3" fill-rule="evenodd"/>
<path d="M84.4,76.4L92.5,75.9L111.7,73.1L120.6,66.3L133.7,59.3L144.2,54.7L147.9,52.0L150.9,47.2L155.3,36.0L159.7,31.1L160.6,29.1L160.1,17.0L160.4,6.0L159.8,-4.1L154.4,-4.1L154.2,-0.1L151.0,10.0L151.3,20.0L150.1,22.7L147.3,26.1L146.5,28.1L146.6,30.1L148.8,35.1L149.6,39.2L148.6,42.7L146.1,47.2L143.6,50.2L141.3,51.8L121.3,60.9L109.7,69.3L93.3,72.6L87.4,72.4L83.6,71.4L77.8,65.6L74.1,63.5L53.4,58.5L30.5,55.8L28.3,56.2L20.2,60.5L12.8,61.0L9.1,60.3L1.0,55.5L-3.5,55.3L-3.5,57.8L1.0,58.2L6.1,62.2L10.6,63.9L21.6,64.4L25.3,63.9L29.8,61.9L32.7,61.2L41.6,60.9L47.9,61.3L57.1,64.8L65.9,65.9L72.6,67.8L75.1,69.3L79.2,74.4L81.4,75.7ZM-0.5,20.1L1.7,20.4L3.9,19.9L5.4,19.0L6.9,17.0L7.9,13.0L9.4,-1.1L9.3,-4.1L7.0,-4.1L7.4,-1.1L7.0,8.0L6.5,12.0L5.4,15.1L3.9,16.9L1.7,17.9L0.2,17.8L-3.5,16.2L-3.5,19.2Z" fill="#fef7ec" stroke="#fef7ec" stroke-width="0.3" fill-rule="evenodd"/>
<path d="M87.4,72.4L93.3,72.6L109.7,69.3L120.6,61.3L125.8,58.6L139.0,53.0L144.6,49.2L147.9,44.3L149.4,40.2L149.1,36.1L146.6,30.1L146.5,28.1L147.3,26.1L150.1,22.7L151.3,20.0L151.0,10.0L154.2,-0.1L154.4,-4.1L149.9,-4.1L149.4,-0.1L145.3,3.9L141.9,10.0L139.8,11.8L134.7,14.0L132.8,17.0L132.5,21.0L133.6,26.1L139.0,33.2L142.1,39.2L141.6,42.2L138.6,48.2L136.3,50.2L131.7,52.5L120.6,55.4L111.0,62.2L105.8,64.6L94.0,68.2L91.8,68.3L87.4,66.3L81.4,61.3L77.0,59.4L60.0,55.6L44.5,54.0L33.5,50.4L29.0,51.0L22.4,56.2L19.4,57.7L17.2,58.0L10.6,57.7L1.7,53.2L-3.5,52.9L-3.5,55.3L1.0,55.5L8.3,60.0L11.3,60.9L19.4,60.7L23.9,58.9L28.3,56.2L30.5,55.8L54.9,58.8L74.8,63.8L78.5,66.2L83.6,71.4ZM-2.7,22.3L1.7,22.9L4.7,22.6L9.8,20.7L11.9,19.0L11.8,17.0L10.0,10.0L10.3,4.9L11.5,1.9L15.4,-1.1L15.8,-4.1L9.3,-4.1L9.4,-1.1L7.9,13.0L6.9,17.0L5.4,19.0L3.2,20.1L0.2,20.2L-3.5,19.2L-3.5,22.1Z" fill="#feeacc" stroke="#feeacc" stroke-width="0.3" fill-rule="evenodd"/>
<path d="M92.5,68.4L108.0,63.7L111.0,62.2L120.6,55.4L131.7,52.5L136.3,50.2L138.6,48.2L141.6,42.2L142.1,39.2L139.0,33.2L133.6,26.1L132.6,22.0L132.6,18.0L133.2,16.0L134.6,14.1L139.8,11.8L141.9,10.0L145.3,3.9L149.4,-0.1L149.9,-4.1L132.2,-4.1L131.7,-0.1L126.9,3.9L124.3,7.0L123.1,10.0L123.1,20.0L119.6,27.1L118.8,30.1L120.6,33.9L126.0,40.2L127.2,44.5L125.8,46.0L120.6,47.0L110.2,53.3L102.1,56.1L99.9,56.3L96.2,55.8L88.8,53.5L83.7,52.6L60.0,51.1L47.5,50.9L43.3,49.2L37.1,43.3L32.0,41.8L29.0,43.1L25.8,49.2L23.9,51.7L20.9,54.1L18.7,55.1L12.0,54.9L2.4,50.8L-3.5,50.4L-3.5,52.9L1.0,53.0L9.8,57.5L15.0,58.1L18.7,57.8L20.9,57.0L29.0,51.0L31.2,50.4L34.2,50.5L44.5,54.0L60.0,55.6L77.0,59.4L81.5,61.3L88.1,66.8ZM-2.7,25.3L3.9,25.8L9.1,25.0L15.7,22.7L19.4,20.4L20.2,19.0L20.1,16.0L19.3,14.0L15.7,10.0L15.2,9.0L15.3,7.0L16.5,5.1L18.3,3.9L24.6,3.8L26.1,3.1L25.7,-4.1L15.8,-4.1L15.4,-1.1L11.5,1.9L10.3,4.9L10.0,10.0L11.8,17.0L11.9,19.0L9.0,21.0L3.9,22.8L-3.5,22.1L-3.5,25.3Z" fill="#fcd8a0" stroke="#fcd8a0" stroke-width="0.3" fill-rule="evenodd"/>
<path d="M99.9,56.3L102.1,56.1L111.0,53.0L120.6,47.0L125.8,46.0L127.0,45.2L127.2,43.2L126.0,40.2L120.0,33.1L119.1,31.1L118.9,29.1L123.1,20.0L123.3,9.0L125.9,4.9L131.7,-0.1L132.2,-4.1L123.8,-4.1L123.6,-1.1L122.7,-0.1L116.5,3.9L114.9,8.0L114.6,19.0L107.3,32.4L105.1,34.7L100.6,36.9L96.5,41.2L92.5,43.1L77.8,42.5L56.3,43.2L54.1,42.5L43.8,36.4L41.6,33.1L40.1,26.0L38.6,23.2L36.4,22.6L28.3,23.0L26.9,22.0L26.5,21.0L26.4,19.0L27.5,16.5L32.8,12.0L35.1,8.0L35.6,2.9L34.4,-1.1L34.3,-4.1L25.7,-4.1L26.1,3.1L24.6,3.8L18.7,3.8L15.7,6.0L15.2,9.0L19.3,14.0L20.1,16.0L20.2,19.0L18.7,21.0L13.5,23.6L6.9,25.4L3.2,25.8L-3.5,25.3L-3.5,28.6L2.4,28.9L10.5,28.1L18.7,26.0L21.6,26.1L23.1,27.0L23.8,28.1L26.8,34.1L27.3,36.1L27.0,38.1L23.0,48.2L21.6,50.2L19.4,51.9L16.5,52.4L12.8,51.8L4.7,48.1L1.7,47.5L-3.5,47.5L-3.5,50.4L2.4,50.8L12.0,54.9L18.7,55.1L21.6,53.6L24.6,50.9L29.0,43.1L30.5,42.2L32.7,41.9L37.9,43.8L43.3,49.2L46.7,50.8L60.0,51.1L83.7,52.6L88.8,53.5L96.2,55.8Z" fill="#fbbe80" stroke="#fbbe80" stroke-width="0.3" fill-rule="evenodd"/>
<path d="M15.0,52.2L18.7,52.2L21.6,50.2L23.4,47.2L27.0,38.1L27.3,36.1L26.8,34.1L23.2,27.1L21.6,26.1L19.4,25.9L10.5,28.1L5.4,28.8L-3.5,28.6L-3.5,32.4L6.9,30.4L17.2,29.6L20.2,30.4L23.9,33.3L25.1,36.1L24.7,38.1L18.7,48.4L17.2,48.7L14.5,48.2L5.4,44.0L-3.5,43.8L-3.5,47.5L3.9,47.9L10.6,51.1ZM57.1,43.2L78.5,42.5L91.0,43.3L93.3,42.9L96.2,41.4L100.6,36.9L105.1,34.7L107.3,32.4L114.6,19.0L114.8,9.0L115.8,4.9L117.6,2.9L122.7,-0.1L123.6,-1.1L123.8,-4.1L34.3,-4.1L34.4,-1.1L35.6,2.9L35.1,8.0L33.5,11.2L27.2,17.0L26.3,20.0L26.8,21.9L29.0,23.0L36.4,22.6L38.6,23.2L39.8,25.1L41.3,32.1L43.1,35.6L45.3,37.5L54.1,42.5ZM61.3,38.1L47.5,32.6L45.3,30.1L45.3,28.1L46.1,26.1L49.7,21.5L53.4,14.3L55.6,11.6L60.8,8.4L65.2,7.1L74.1,10.4L88.8,10.8L91.8,11.6L93.3,12.7L94.9,16.0L95.0,20.0L91.5,25.1L88.0,32.1L85.2,35.1L80.7,37.4L74.8,38.7L67.4,39.0Z" fill="#f6965a" stroke="#f6965a" stroke-width="0.3" fill-rule="evenodd"/>
<path d="M15.0,48.4L17.9,48.6L19.4,47.7L21.9,42.2L24.7,38.1L24.9,35.1L22.4,31.8L18.7,29.8L15.0,29.6L6.1,30.5L-3.5,32.4L-3.5,43.8L3.2,43.6L6.1,44.2ZM12.6,42.2L-0.5,39.7L-2.3,38.1L-2.0,36.1L0.0,34.1L2.2,33.1L9.8,31.5L17.9,31.9L21.7,34.1L22.4,35.1L22.5,37.1L20.2,40.3L17.2,42.0ZM61.5,38.2L68.2,39.0L75.5,38.6L81.4,37.1L85.9,34.6L88.0,32.1L91.5,25.1L95.0,20.0L94.9,16.0L93.3,12.7L91.8,11.6L88.8,10.8L74.1,10.4L65.2,7.1L60.8,8.4L55.6,11.6L53.4,14.3L49.7,21.5L46.1,26.1L45.3,28.1L45.3,30.1L47.5,32.6ZM64.5,36.1L58.6,33.8L55.3,31.1L53.8,29.1L53.3,27.1L53.9,24.1L55.7,20.0L57.8,17.7L61.5,15.4L65.9,14.2L82.9,16.4L85.1,17.4L86.6,18.8L86.9,21.0L85.4,28.1L83.8,31.1L81.8,33.1L78.2,35.1L74.8,36.1L69.6,36.6Z" fill="#ea6848" stroke="#ea6848" stroke-width="0.3" fill-rule="evenodd"/>
<path d="M12.8,42.2L17.2,42.0L20.2,40.3L22.5,37.1L22.4,35.1L21.7,34.1L17.9,31.9L9.8,31.5L2.2,33.1L0.0,34.1L-2.0,36.1L-2.3,38.1L-0.5,39.7ZM65.2,36.3L70.4,36.6L74.8,36.1L78.5,35.0L82.2,32.8L84.5,30.1L85.8,27.1L87.0,20.0L86.0,18.0L82.2,16.3L65.9,14.2L61.5,15.4L57.4,18.0L55.7,20.0L53.9,24.1L53.3,27.1L53.8,29.1L56.4,32.1L59.1,34.1Z" fill="#d63818" stroke="#d63818" stroke-width="0.3" fill-rule="evenodd"/>
</g>
<path d="M1.5,-0.6L2.1,1.9L2.6,4.9L3.0,6.5L2.3,8.0L1.0,9.0L1.7,6.5L1.9,4.9L0.2,3.7L-2.7,3.4L-5.7,2.5L-5.3,4.4L-3.8,8.0L-3.5,10.0L-3.3,13.2L-2.9,17.0L-3.3,21.5L-3.7,26.1L-4.2,28.6L-5.1,30.6L-3.8,34.6L-3.5,37.6L-3.7,40.7L-4.6,42.7L-2.5,46.2L-2.0,50.0L0.6,53.5L0.8,54.8L2.4,55.8L2.4,57.8L3.9,60.0L4.7,61.8L4.8,63.6L6.7,66.3L8.5,68.6L9.3,70.3L9.5,72.1L11.7,72.6L14.3,73.4L16.1,74.8L17.6,75.6L17.6,76.4L19.1,76.6L20.2,77.6L21.6,79.7L22.3,82.3L31.2,81.3L30.9,82.4L44.6,88.3L55.2,88.3L55.2,86.0L61.4,86.0L62.6,87.7L64.8,89.5L67.1,91.5L68.5,95.0L69.3,97.0L71.5,98.8L73.5,100.1L74.8,98.8L75.7,96.3L77.8,96.0L80.3,96.1L82.2,98.5L83.7,101.0L84.4,103.6L86.2,106.3L87.4,108.1L88.1,110.8L89.2,112.9L91.4,114.1L93.8,114.9L96.0,115.4L95.5,112.1L95.3,108.6L96.0,105.8L98.1,103.6L100.6,101.8L103.6,99.5L104.9,98.3L106.9,96.8L108.2,96.5L110.6,96.1L113.2,97.0L115.8,97.5L118.0,99.0L120.2,99.5L122.1,99.3L124.6,100.3L125.4,98.5L123.9,96.5L124.3,94.7L123.9,94.0L125.8,93.2L128.3,93.1L129.4,93.7L130.2,92.0L131.3,93.6L133.5,93.2L135.7,93.0L138.1,94.5L139.6,96.5L141.3,96.8L143.1,95.3L144.8,94.7L146.8,97.0L148.3,99.3L149.2,102.0L149.0,105.1L149.8,107.6L150.9,110.3L152.5,113.1L153.1,115.6L154.9,118.1L156.0,119.4L157.9,119.1L158.4,117.1L159.0,115.1L159.2,111.1L158.2,108.1L157.1,104.1L157.3,102.3L156.2,100.0L154.9,97.0L154.4,94.5L154.0,91.5L154.6,89.0L155.1,86.4L156.0,84.7L157.7,83.2L159.7,81.2L161.9,78.9L163.2,76.9L164.7,75.6L166.9,75.4L167.8,73.1L169.9,71.6L172.3,71.4L174.1,69.6L176.0,68.6L175.8,65.8L174.9,63.6L174.5,62.0L174.2,60.3L173.0,59.8L173.0,56.8L172.8,54.5L172.3,52.2L172.6,49.7L173.4,47.7L173.9,47.0L174.3,49.2L173.7,51.7L174.3,54.2L174.2,59.0L175.2,57.3L176.7,54.8L177.6,52.5L177.4,50.7L176.5,49.2L175.8,46.7L176.3,47.7L177.4,48.7L178.0,50.1L179.1,48.7L180.4,46.7L181.1,45.2L181.5,42.4L181.5,41.6L181.9,41.8L184.1,41.5L186.7,40.7L189.3,39.3L187.4,39.7L185.2,39.9L182.6,40.3L182.8,39.7L184.5,38.9L185.9,38.4L188.1,38.1L189.4,38.0L190.9,37.6L191.7,36.1L192.0,37.1L192.9,36.6L193.9,36.9L195.2,36.4L196.5,36.4L196.5,34.9L196.1,34.4L195.5,34.4L194.2,35.6L194.1,34.6L192.9,33.1L193.1,31.9L193.3,30.4L193.7,29.3L194.8,27.8L195.5,26.3L197.0,25.6L198.9,24.8L200.7,23.1L202.2,23.1L204.0,22.3L205.9,21.3L207.3,20.3L206.8,18.8L205.7,16.5L204.4,16.0L204.4,9.1L202.5,7.7L200.3,8.5L199.0,7.2L196.3,11.0L195.2,14.8L193.3,17.5L192.3,18.0L190.7,19.5L183.9,19.5L178.9,19.5L176.7,20.5L174.5,22.6L172.8,24.1L173.4,26.8L171.5,27.8L168.2,28.3L164.9,27.7L162.9,28.2L163.2,29.8L163.4,30.4L161.2,32.4L159.0,33.9L157.4,34.7L155.3,35.6L153.1,37.1L151.2,37.4L149.4,37.4L147.9,36.6L146.5,36.0L146.8,34.6L147.9,33.6L148.6,32.6L149.8,31.9L150.3,29.8L150.5,29.3L149.9,26.6L149.6,24.3L148.3,24.3L147.0,25.1L145.0,26.6L145.0,24.8L146.8,23.1L147.2,21.0L147.2,19.3L146.1,17.8L143.8,16.5L141.8,15.6L140.9,16.5L140.2,18.5L138.9,19.8L138.7,20.8L137.0,20.3L136.3,22.0L135.4,24.6L135.5,27.1L136.3,29.8L136.1,32.1L135.0,34.1L134.1,35.8L132.8,36.5L131.6,36.1L131.1,34.9L130.5,32.1L130.2,29.6L130.7,27.1L130.9,25.1L131.7,23.3L132.4,21.5L133.5,20.0L133.3,18.3L131.7,20.3L130.2,21.8L129.8,21.5L131.1,19.8L131.3,19.0L132.0,17.5L133.3,16.0L135.4,15.0L136.8,15.3L138.9,14.0L140.9,14.5L141.8,15.2L143.1,14.8L144.2,14.6L145.0,14.3L144.2,13.2L142.9,12.0L142.4,12.2L140.7,10.7L137.9,11.0L135.4,12.2L132.0,12.0L130.9,10.5L129.1,9.7L130.2,8.5L129.1,7.2L128.0,8.2L128.0,9.5L126.1,10.2L123.9,10.5L121.0,11.7L119.3,11.2L118.9,9.7L117.6,10.5L115.8,11.0L114.7,10.7L115.8,9.7L117.3,8.5L119.8,6.5L122.1,5.2L123.9,4.4L122.4,3.9L119.5,3.4L116.9,4.2L115.0,2.9L112.8,2.2L109.9,1.4L107.7,1.2L105.3,0.7L104.3,-1.6L103.4,-2.5L103.4,-0.6L70.6,-0.6L26.3,-0.6L1.5,-0.6ZM157.9,119.1L157.3,120.2L156.0,121.2L154.6,121.9L152.7,122.4M-3.3,13.2L-0.9,13.5L0.6,14.0L1.3,16.3L3.5,16.8L7.2,16.3L10.6,15.9L13.5,14.9L15.4,14.5L23.0,14.5M22.6,-0.6L22.6,12.4L23.0,14.5L24.2,15.8L24.6,17.3L23.7,19.5L23.1,21.5L22.0,23.1L22.7,25.6L22.6,34.6M-3.8,34.6L44.7,34.6M11.7,34.6L11.7,49.7L31.5,69.8L31.8,71.9L32.5,73.4L32.0,75.4L31.2,77.9L32.0,79.9L31.2,81.3M31.5,69.8L31.2,66.8L31.2,64.6L33.6,63.8L33.6,59.8M33.6,34.6L33.6,59.8M33.6,59.8L74.4,59.8M74.4,59.8L105.4,59.8M52.1,59.8L52.1,88.3M52.1,59.8L52.1,39.7M44.7,34.6L44.7,39.7L70.6,39.7L77.9,39.7L77.9,44.7M44.7,34.6L44.7,19.5M44.7,22.0L43.4,21.0L40.1,22.0L37.5,20.5L35.7,19.0L34.2,16.5L32.0,16.8L32.5,14.5L32.3,11.5L31.2,11.0L29.0,8.2L27.5,7.2L26.3,4.7L26.3,-0.6M44.7,19.5L70.6,19.5M70.6,-0.6L70.6,39.7M77.9,44.7L77.9,59.8M70.6,14.8L98.2,14.8M70.6,29.6L91.0,29.6L93.6,30.4L96.6,30.8L98.1,31.1L98.6,32.1M77.9,44.7L102.9,44.7M98.6,32.1L99.2,33.6L100.1,35.6L100.6,38.1L101.0,40.7L101.2,41.7L102.9,44.7M102.9,44.7L104.3,47.0L105.4,49.0L105.4,59.8M74.4,59.8L74.4,62.3L85.5,62.3L85.5,72.1L87.0,73.0L88.5,73.9L90.7,74.1L92.9,74.9L94.4,75.4L95.8,76.1L98.1,75.6L100.3,75.6L102.1,75.5L104.0,75.6L105.8,76.8L107.5,77.1M74.4,62.3L74.2,84.9L61.1,84.9L61.4,86.0M105.4,59.8L105.4,62.3L106.0,67.8L105.9,76.7M107.5,77.1L107.5,79.9L118.2,79.9M107.5,79.9L107.5,84.9L108.4,86.9L109.3,89.0L109.1,91.5L108.8,93.5L108.2,96.5M118.2,79.9L118.4,81.9L118.7,83.9L117.3,86.9L116.7,89.0L116.5,90.0L123.4,90.0L123.4,92.0L123.9,94.0M129.1,69.8L129.4,71.9L128.9,76.4L128.2,85.4L128.3,93.1M118.2,79.9L118.4,77.4L119.1,74.9L120.2,72.9L121.3,70.9L121.7,69.8L122.2,67.8L122.8,66.3L123.5,64.8L124.3,62.3L125.4,59.8M105.4,62.3L121.9,62.3L122.1,64.8L123.5,64.8M101.2,41.7L117.3,41.7M117.3,41.7L117.1,43.7L118.0,46.2L119.8,48.2L121.7,50.5L121.5,52.7L122.4,54.8L123.9,56.8L124.5,58.3L125.4,59.8M98.6,27.1L117.9,27.1M98.6,32.1L98.1,29.6L98.6,27.1L98.6,18.0L98.2,14.8L97.3,11.5L97.1,8.0L96.6,3.4L95.7,-0.6M117.9,27.1L118.4,30.9L120.0,32.1L121.7,35.6L120.2,37.1L118.7,38.7L118.4,40.7L117.3,41.7M117.9,27.1L116.9,24.6L113.9,22.0L112.1,20.8L112.3,18.0L112.1,16.5L113.9,14.0L113.9,11.2L114.7,10.7M120.0,32.1L130.5,32.1M121.0,11.7L122.1,13.0L125.8,14.0L129.4,15.5L130.6,17.8L131.3,19.0M131.5,36.1L131.5,47.7L131.3,50.5L130.2,53.2L129.6,55.8M129.6,55.8L129.1,57.3L128.0,59.3L125.4,59.8M134.2,35.8L141.6,36.1L146.5,36.0M141.6,36.1L141.6,49.2M141.6,49.2L140.2,51.0L139.0,51.7L137.8,53.2L136.1,54.2L135.0,55.3L133.1,55.5L131.3,55.0L129.6,55.8M141.6,49.2L142.9,49.2L144.6,50.7L145.9,51.6L148.3,51.2L149.8,52.6L151.0,51.0L152.0,49.7L152.9,48.7L154.6,48.0L156.2,45.9L156.8,43.7L157.1,41.6L157.4,41.5M157.4,41.5L157.4,34.7M157.4,41.5L157.4,46.1L161.3,46.1L161.3,48.7L162.7,47.5L164.1,47.0L165.6,46.6L167.5,48.1M167.5,48.1L166.7,49.2L165.3,49.7L163.6,51.0L161.9,52.7L160.5,54.8L159.0,56.5L158.2,57.5L156.2,58.0L154.6,58.5L153.1,58.8L152.1,57.1M149.8,52.6L149.9,54.2L150.7,55.8L152.1,57.1M152.1,57.1L150.5,58.3L147.9,60.0L145.8,61.8M145.8,61.8L137.2,61.6L129.6,62.3L124.3,62.3M145.8,61.8L153.3,61.8L174.5,62.0M153.3,61.8L152.2,63.8L149.8,65.1L147.9,66.1L146.1,67.1L144.6,68.1L143.4,69.8M143.4,69.8L121.7,69.8M143.4,69.8L147.9,69.8L150.5,68.8L155.5,69.1L156.0,70.9L160.5,70.9L164.7,75.6M147.9,69.8L149.4,72.1L151.2,74.9L152.3,77.9L154.0,80.4L155.1,83.4L156.0,84.7M138.7,69.8L140.2,80.4L140.9,82.9L140.5,85.9L140.9,90.0M140.9,90.0L141.3,91.5L148.3,92.0L151.2,92.1L151.8,91.2L154.0,91.5M140.9,90.0L131.3,90.0L131.8,93.0L131.3,93.6M160.2,33.3L160.2,34.6L176.5,34.6L177.4,35.6L178.9,37.9M178.9,37.9L181.5,39.7L181.5,41.2M178.9,37.9L177.4,40.4L177.6,42.4L178.7,43.7L177.4,44.9L176.0,45.7M176.0,45.7L174.9,46.1L161.3,46.1M174.9,46.1L175.2,52.4L177.6,52.5M167.5,48.1L168.6,49.2L170.1,50.1L170.4,51.7L169.7,53.0L171.9,54.0L173.0,55.0M174.3,55.0L175.6,55.0M183.9,19.5L183.9,22.0L184.1,24.6L184.3,26.8L184.2,30.9M184.2,30.9L183.3,34.4L183.3,38.1L182.8,39.7M190.7,19.5L190.2,21.0L188.7,22.8L187.8,26.1L187.4,28.6L187.2,31.0M184.2,30.9L187.2,31.0L191.5,31.1L193.1,30.3M183.3,34.4L189.6,34.5L191.2,34.5L191.3,35.9L192.0,37.1M189.6,34.5L189.4,38.0M192.3,18.0L192.6,22.6L192.8,26.6L193.7,29.3" fill="none" stroke="#2a2a2a" stroke-width="0.45" stroke-opacity="0.85" stroke-linejoin="round"/>
</g></svg>
<svg class="map" style="left:479px;top:3px" width="203" height="113">
<defs><clipPath id="clipc"><rect x="0" y="0" width="202.3" height="112.2"/></clipPath></defs>
<g transform="translate(0.20,0.40)">
<g clip-path="url(#clipc)"><rect x="0" y="0" width="202.3" height="112.2" fill="#f5faff"/>
<path d="M31.2,116.0L41.9,116.0L42.0,87.8L40.7,84.3L38.5,82.3L37.0,82.6L33.7,84.9L31.7,86.9L30.9,88.8L31.2,99.5L30.5,113.1L30.6,116.0ZM191.1,56.0L192.6,56.6L192.8,55.8L183.9,43.2L177.4,38.4L174.3,37.4L175.3,40.3L181.0,47.5Z" fill="#589cd2" stroke="#589cd2" stroke-width="0.3" fill-rule="evenodd"/>
<path d="M-1.5,116.0L14.4,116.0L14.1,112.1L14.6,107.2L15.9,104.6L18.8,102.2L20.3,99.9L24.0,84.0L23.9,81.0L23.2,79.9L10.1,73.2L3.6,70.8L-2.2,70.8L-2.2,116.0ZM24.7,116.0L30.6,116.0L31.2,99.5L30.9,88.8L32.6,85.9L37.8,82.3L39.2,82.6L40.5,84.0L42.0,87.8L41.9,116.0L56.0,116.0L57.9,97.5L57.0,89.8L55.2,86.9L51.1,84.9L49.4,83.6L46.7,77.2L44.3,75.1L41.4,74.6L37.8,75.4L31.2,79.5L29.0,81.9L27.6,85.9L24.7,100.7L24.3,116.0ZM135.2,116.0L170.7,116.0L170.9,97.5L168.4,89.8L166.0,85.9L163.5,84.5L155.5,83.2L152.6,82.1L150.4,80.2L147.5,75.8L143.9,73.9L138.1,73.6L131.5,75.4L128.6,77.0L128.0,79.1L128.3,81.0L131.3,87.8L131.0,97.5L131.5,102.2L132.7,105.3L136.3,111.1L136.3,113.1L134.6,116.0ZM196.2,62.6L197.7,63.0L199.1,62.6L198.3,58.7L189.5,47.1L184.9,39.3L183.6,38.4L178.8,36.9L172.2,33.3L170.8,33.0L170.1,33.4L170.5,35.5L172.5,39.3L179.7,49.0L191.9,60.3ZM190.9,55.8L181.0,47.5L175.3,40.3L174.3,37.4L177.4,38.4L183.9,43.2L192.8,55.8L192.6,56.6Z" fill="#80b8e1" stroke="#80b8e1" stroke-width="0.3" fill-rule="evenodd"/>
<path d="M14.5,116.0L24.3,116.0L24.7,100.7L28.3,83.5L29.8,80.8L33.1,78.1L38.5,75.1L42.1,74.6L44.3,75.1L45.7,76.1L49.4,83.6L51.1,84.9L55.2,86.9L56.7,88.8L57.9,96.6L56.0,116.0L60.0,116.0L59.0,114.0L58.7,111.1L60.4,94.6L59.7,87.8L57.4,83.5L51.6,77.2L47.2,69.6L43.6,69.1L39.1,70.4L30.5,75.3L28.5,77.2L27.2,81.0L21.0,111.6L19.6,115.0L19.5,110.1L26.5,80.1L26.3,76.2L25.4,75.4L19.6,73.5L15.2,71.1L5.8,62.7L4.3,62.4L1.4,63.6L-2.2,63.7L-2.2,70.8L2.9,70.8L5.8,71.4L20.3,78.1L23.2,79.9L23.9,81.0L23.3,87.8L21.0,97.9L19.6,101.3L15.9,104.6L14.6,107.2L14.1,112.1ZM88.6,116.0L97.7,116.0L98.1,111.1L97.5,107.2L95.6,104.3L93.0,102.3L91.5,102.7L90.1,103.9L88.0,107.2L88.0,116.0ZM103.2,116.0L105.6,116.0L109.0,97.5L109.1,95.6L108.3,94.4L105.5,95.6L104.0,98.5L103.0,106.3ZM108.3,116.0L116.7,116.0L116.2,111.1L117.5,99.5L116.6,96.6L114.1,94.7L112.6,94.7L111.5,96.6L107.8,116.0ZM123.5,116.0L134.6,116.0L136.3,113.1L136.0,110.1L132.7,105.3L131.5,102.2L131.0,97.5L131.3,87.8L128.6,82.0L128.0,79.1L128.5,77.2L129.6,76.2L138.1,73.6L142.4,73.7L145.3,74.4L147.5,75.8L150.4,80.2L152.6,82.1L155.5,83.2L163.5,84.5L165.0,85.1L166.9,86.9L168.8,90.7L170.9,97.5L170.7,116.0L195.8,116.0L195.9,108.2L195.0,105.3L191.8,101.4L187.6,97.5L180.2,92.5L170.9,81.0L166.4,76.6L164.2,75.7L158.4,76.2L156.3,75.8L147.5,66.9L144.6,66.2L140.3,66.3L138.1,66.7L128.6,72.0L126.0,74.3L123.9,77.2L123.6,81.0L124.9,89.8L123.5,100.4ZM205.0,71.6L205.0,64.1L199.1,55.0L192.2,46.1L187.7,38.4L184.6,36.3L178.1,34.4L169.3,29.8L167.9,29.3L166.7,29.6L167.2,32.5L170.1,38.6L176.6,49.9L179.5,53.4L185.1,57.8L188.2,63.3L190.4,64.7L197.0,66.5ZM196.2,62.6L191.9,60.3L179.7,49.0L172.5,39.3L170.5,35.5L170.1,33.4L170.8,33.0L172.2,33.3L178.8,36.9L183.6,38.4L184.9,39.3L189.5,47.1L198.3,58.7L199.1,62.6L197.7,63.0ZM-1.5,17.2L1.7,17.0L3.2,15.1L3.1,11.2L1.4,8.2L-2.2,8.0L-2.2,17.2Z" fill="#acd2ea" stroke="#acd2ea" stroke-width="0.3" fill-rule="evenodd"/>
<path d="M59.6,115.6L60.0,116.0L88.0,116.0L88.0,107.2L90.1,103.9L91.5,102.7L93.0,102.3L95.6,104.3L97.5,107.2L98.1,111.1L97.7,116.0L103.0,116.0L103.0,106.3L104.0,98.5L105.5,95.6L108.3,94.4L109.1,95.6L109.0,97.5L105.6,116.0L107.8,116.0L111.5,96.6L112.6,94.7L113.4,94.5L116.3,96.2L117.4,98.5L117.4,103.4L116.2,112.1L116.7,116.0L123.4,116.0L123.5,100.4L124.9,89.8L123.6,81.0L123.9,77.2L126.0,74.3L129.4,71.5L138.1,66.7L142.4,66.1L146.1,66.4L148.3,67.4L156.3,75.8L158.4,76.2L164.2,75.7L166.4,76.6L171.5,81.8L179.5,91.7L188.8,98.5L194.3,104.3L195.9,108.2L195.8,116.0L205.0,116.0L205.0,71.6L197.0,66.5L190.4,64.7L188.2,63.3L185.1,57.8L179.5,53.4L176.6,49.9L170.1,38.6L167.2,32.5L166.7,29.6L167.9,29.3L169.3,29.8L178.1,34.4L183.9,35.9L187.5,38.2L192.2,46.1L199.1,55.0L205.0,64.1L205.0,51.6L202.8,51.6L201.3,50.9L191.1,38.3L188.2,35.7L184.6,33.9L177.3,31.6L165.7,25.1L157.7,19.1L156.3,18.9L157.0,22.3L162.8,29.4L166.2,35.5L167.9,47.1L170.8,58.0L172.2,60.3L175.9,63.6L179.0,72.3L184.4,75.2L186.2,77.2L187.0,81.0L186.1,84.0L183.9,84.6L182.4,83.7L167.2,65.8L165.7,64.8L157.7,64.2L153.3,61.6L149.0,60.5L142.4,60.0L138.1,60.2L134.4,61.9L130.8,64.7L123.5,71.1L118.2,77.2L117.3,79.1L117.7,85.9L116.7,87.8L114.1,88.5L111.9,87.0L109.0,88.5L106.8,87.8L102.5,85.4L100.3,85.5L93.9,89.8L82.7,95.6L74.8,101.4L73.4,101.5L69.0,99.9L67.6,100.1L62.5,106.1L61.7,105.6L61.6,103.4L63.0,90.7L62.0,85.9L59.6,81.4L53.7,74.8L48.9,67.5L46.5,66.3L42.8,66.5L37.8,67.7L31.2,71.1L29.0,71.0L26.1,71.8L21.8,70.9L18.8,69.7L15.2,67.2L8.7,59.4L2.5,54.9L1.4,53.4L0.7,52.9L-2.2,52.8L-2.2,63.7L1.4,63.6L4.3,62.4L5.8,62.7L15.2,71.1L19.6,73.5L25.4,75.4L26.3,76.2L26.5,80.1L19.5,110.1L19.6,115.0L20.3,114.0L21.8,108.5L28.0,78.1L29.8,75.8L37.8,71.0L42.0,69.4L45.0,69.0L46.9,69.4L47.8,70.4L51.6,77.1L57.4,83.5L59.7,87.8L60.4,94.6L58.7,111.1ZM-1.5,21.2L4.3,21.0L11.0,19.9L14.7,18.0L18.8,13.9L20.3,11.8L21.2,9.3L21.6,-3.3L-2.2,-3.3L-2.2,8.0L1.5,8.3L2.9,10.2L3.4,13.1L3.2,15.1L2.1,16.8L-2.2,17.2L-2.2,21.2Z" fill="#cee0f2" stroke="#cee0f2" stroke-width="0.3" fill-rule="evenodd"/>
<path d="M61.7,105.6L62.5,106.1L63.2,105.6L67.6,100.1L69.0,99.9L73.4,101.5L74.8,101.4L82.7,95.6L93.9,89.8L100.3,85.5L102.5,85.4L106.8,87.8L109.0,88.5L111.9,87.0L114.1,88.5L116.3,88.1L117.7,85.9L117.3,79.1L118.2,77.2L123.5,71.1L131.5,64.1L135.2,61.5L138.8,60.1L149.7,60.6L153.3,61.6L157.7,64.2L164.2,64.5L166.4,65.2L182.4,83.7L183.9,84.6L186.1,84.0L187.0,81.0L186.2,77.2L184.4,75.2L179.0,72.3L175.9,63.6L172.2,60.3L170.8,58.0L167.9,47.1L166.2,35.5L162.8,29.4L157.0,22.3L156.3,18.9L157.7,19.1L165.7,25.1L177.3,31.6L184.6,33.9L188.2,35.7L191.1,38.3L201.3,50.9L202.8,51.6L205.0,51.6L205.0,37.9L202.1,38.0L199.1,38.9L197.7,38.7L189.7,33.5L181.7,30.5L178.8,28.8L174.4,23.0L169.3,19.0L165.0,14.3L159.0,0.5L158.5,-3.3L151.8,-3.3L151.7,-0.4L148.9,12.2L149.1,35.5L149.8,38.4L151.2,40.3L156.3,41.9L157.7,43.2L159.2,47.1L158.4,50.1L155.6,51.9L147.5,52.1L129.4,57.2L121.4,57.2L118.8,57.8L117.2,59.7L116.5,66.5L114.7,68.4L102.5,76.1L99.5,76.4L93.0,75.6L91.0,76.2L88.6,78.1L85.0,82.6L79.1,87.8L74.1,90.5L72.3,89.8L71.2,88.1L70.5,82.0L69.7,80.3L68.3,80.3L66.1,81.8L64.6,82.0L55.9,73.1L52.0,67.5L49.4,65.1L46.5,64.2L42.1,64.6L31.9,67.5L29.8,66.9L26.1,68.7L20.3,67.6L17.4,66.0L14.7,63.6L10.9,57.7L5.1,51.9L2.1,46.8L0.7,46.1L-2.2,46.1L-2.2,52.8L0.7,52.9L1.4,53.4L2.5,54.9L8.7,59.4L14.5,66.6L19.6,70.1L26.1,71.8L29.0,71.0L31.2,71.1L37.8,67.7L42.1,66.6L46.5,66.3L48.9,67.5L53.7,74.8L60.0,82.0L62.3,86.9L63.0,91.7L61.7,101.4ZM-1.5,23.6L11.6,22.8L18.1,20.9L21.0,19.2L23.8,15.1L25.9,10.2L27.4,1.5L27.6,-3.3L21.6,-3.3L20.9,10.2L19.6,13.0L15.7,17.0L13.3,19.0L10.9,20.0L3.6,21.1L-2.2,21.2L-2.2,23.6ZM115.5,20.1L119.2,20.3L120.7,19.0L123.5,10.2L123.7,9.3L122.8,8.3L119.9,8.1L118.1,9.3L116.5,11.2L114.6,17.0L114.5,19.0ZM131.5,6.5L136.6,6.5L138.3,5.4L138.6,4.4L138.2,3.4L136.5,2.5L131.1,2.5L129.3,3.4L128.8,4.4L129.1,5.4Z" fill="#e2ecf8" stroke="#e2ecf8" stroke-width="0.3" fill-rule="evenodd"/>
<path d="M72.6,90.0L74.8,90.4L79.1,87.8L85.0,82.6L88.6,78.1L91.0,76.2L93.0,75.6L99.5,76.4L102.5,76.1L114.7,68.4L116.5,66.5L117.2,59.7L118.8,57.8L121.4,57.2L129.4,57.2L147.5,52.1L155.6,51.9L158.4,50.1L159.2,47.1L157.7,43.2L156.3,41.9L151.2,40.3L149.8,38.4L149.1,35.5L148.9,12.2L151.7,-0.4L151.8,-3.3L116.1,-3.3L116.0,-0.4L111.7,4.4L108.3,12.3L106.1,14.9L102.5,17.6L101.0,19.6L97.8,28.7L95.9,37.4L93.7,42.0L89.8,47.1L89.4,49.0L89.8,50.0L91.6,51.9L94.5,52.9L102.5,52.9L105.4,52.3L106.8,51.5L107.8,49.0L109.2,39.3L114.1,28.1L116.2,25.8L121.4,22.4L123.4,19.9L126.4,14.6L128.0,13.1L130.1,12.3L138.8,12.7L141.7,14.1L143.4,16.1L144.5,19.0L145.0,22.8L145.7,37.4L145.4,40.3L144.1,44.2L142.4,46.9L140.3,48.7L135.9,50.8L129.4,53.0L115.5,53.2L112.6,53.6L110.5,54.5L109.5,55.8L107.6,62.6L105.8,66.5L104.2,68.4L101.7,69.9L97.4,68.8L90.8,64.4L85.7,63.8L83.6,64.5L77.7,69.0L71.2,70.1L66.1,74.2L64.6,74.6L56.7,69.5L52.3,64.1L47.9,62.3L41.4,62.7L32.7,64.7L30.5,63.9L26.8,66.0L21.0,65.4L18.8,64.5L15.9,61.9L11.6,55.4L7.2,50.8L2.1,43.5L-2.2,43.0L-2.2,46.1L0.7,46.1L2.1,46.8L5.8,52.8L10.9,57.7L14.7,63.6L18.1,66.5L21.0,67.8L26.1,68.7L29.8,66.9L31.9,67.5L41.4,64.7L46.5,64.2L48.7,64.8L51.6,66.9L55.9,73.1L64.6,82.0L66.1,81.8L68.3,80.3L69.7,80.3L70.5,82.0L71.1,87.8ZM115.2,19.9L114.5,19.0L114.7,16.1L117.0,10.5L119.9,8.1L122.8,8.3L123.7,9.3L123.5,10.2L120.6,19.1L119.9,20.0L118.4,20.4ZM131.0,6.4L129.1,5.4L128.8,4.4L129.3,3.4L131.1,2.5L136.5,2.5L138.2,3.4L138.6,4.4L138.3,5.4L136.6,6.5ZM197.7,38.7L199.1,38.9L202.1,38.0L205.0,37.9L205.0,33.4L198.4,33.0L183.2,27.7L180.9,24.8L179.1,20.9L175.4,7.3L173.7,5.0L168.6,0.7L168.1,-3.3L158.5,-3.3L159.0,0.5L163.8,12.2L166.4,16.1L174.4,23.0L177.7,27.7L179.5,29.3L189.0,33.1ZM-1.5,25.9L13.0,25.2L19.6,23.5L24.0,20.9L26.4,18.0L29.0,11.8L31.0,0.5L31.2,-3.3L27.6,-3.3L27.4,1.5L25.9,10.2L23.8,15.1L21.0,19.2L18.1,20.9L11.3,22.8L-2.2,23.6L-2.2,25.9ZM197.7,20.9L199.9,21.4L205.0,21.1L205.0,6.5L199.9,6.7L198.4,7.4L196.9,9.3L195.9,13.1L195.8,17.0L196.2,19.2Z" fill="#f5faff" stroke="#f5faff" stroke-width="0.3" fill-rule="evenodd"/>
<path d="M63.9,74.3L65.4,74.6L66.1,74.2L71.2,70.1L78.5,68.6L83.6,64.5L85.7,63.8L90.8,64.4L97.4,68.8L101.7,69.9L104.2,68.4L105.8,66.5L107.6,62.6L109.5,55.8L111.2,54.1L116.3,53.1L129.4,53.0L135.9,50.8L141.2,48.1L144.1,44.2L145.6,38.4L144.8,20.9L144.2,18.0L142.8,15.1L140.3,13.2L137.3,12.4L130.8,12.2L127.9,13.2L125.7,15.6L121.9,21.9L116.2,25.8L113.8,28.7L109.2,39.3L107.8,49.0L106.8,51.5L105.4,52.3L101.7,52.9L95.2,53.0L92.3,52.4L89.8,50.0L89.4,48.1L90.4,46.1L93.7,42.0L95.6,38.4L97.8,28.7L101.0,19.6L102.5,17.6L107.7,13.1L111.7,4.4L116.0,-0.4L116.1,-3.3L104.2,-3.3L104.7,3.4L103.9,8.3L99.3,16.1L92.2,32.5L89.4,35.9L82.8,38.5L79.7,40.3L71.8,48.1L70.8,50.0L71.0,56.8L70.6,58.7L67.7,62.6L64.6,64.9L61.0,64.5L54.5,60.8L50.1,60.1L44.3,60.3L33.4,62.0L31.2,61.1L26.8,63.5L20.3,62.9L16.6,59.7L13.1,53.9L8.8,49.0L4.3,41.9L1.4,39.9L-2.2,39.8L-2.2,43.0L2.1,43.5L7.2,50.8L11.6,55.4L15.7,61.6L19.6,64.9L23.2,65.8L26.8,66.0L30.5,63.9L32.7,64.7L42.1,62.6L48.7,62.4L52.3,64.1L56.7,69.5ZM118.1,49.0L115.5,47.7L114.2,46.1L112.8,41.3L113.3,36.4L116.0,30.6L117.7,28.5L123.5,23.8L127.9,17.5L129.4,16.2L134.4,15.6L138.8,16.8L141.2,19.9L142.3,24.8L144.0,37.4L143.5,40.3L142.5,42.2L140.3,44.8L138.1,46.3L130.1,49.3L123.5,49.7ZM197.7,32.8L205.0,33.4L205.0,21.1L199.9,21.4L197.7,20.9L196.1,19.0L195.7,16.1L196.2,11.2L197.7,8.1L199.9,6.7L205.0,6.5L205.0,-3.3L168.1,-3.3L168.6,0.7L173.7,5.0L175.4,7.3L178.8,19.9L182.2,26.7L185.1,28.7ZM-1.5,28.4L10.1,28.4L15.9,27.4L22.5,25.5L27.6,22.3L29.8,19.6L31.0,16.1L34.0,-0.4L34.1,-3.3L31.2,-3.3L31.0,0.5L29.0,11.8L26.4,18.0L24.0,20.9L19.6,23.5L13.0,25.2L7.2,25.8L-2.2,25.9L-2.2,28.4Z" fill="#fef7ec" stroke="#fef7ec" stroke-width="0.3" fill-rule="evenodd"/>
<path d="M61.7,64.7L65.4,64.7L70.0,59.7L71.0,56.8L70.8,50.0L71.8,48.1L79.7,40.3L82.8,38.5L88.6,36.3L91.7,33.5L99.3,16.1L103.9,8.3L104.7,3.4L104.2,-3.3L97.4,-3.3L97.5,-0.4L98.9,4.4L98.6,9.3L93.7,22.4L88.5,31.6L84.4,34.5L74.1,38.4L66.1,42.9L56.7,46.9L55.2,48.4L51.5,54.9L49.4,56.5L47.2,57.3L34.8,59.4L31.2,58.4L28.3,60.7L26.1,61.2L20.3,60.5L18.3,58.7L14.9,51.9L11.6,47.8L7.9,38.4L8.6,36.4L10.8,34.5L31.2,26.3L33.1,24.8L34.3,20.9L34.8,8.3L37.1,-0.4L37.1,-3.3L34.1,-3.3L34.0,-0.4L30.8,17.0L29.6,19.9L27.0,22.8L21.8,25.8L15.2,27.6L9.4,28.4L-2.2,28.4L-2.2,39.8L1.4,39.9L4.3,41.9L8.8,49.0L13.1,53.9L16.6,59.7L19.6,62.6L22.5,63.4L26.8,63.5L31.2,61.1L33.4,62.0L44.3,60.3L50.1,60.1L54.5,60.8ZM118.4,49.2L124.3,49.7L130.1,49.3L138.1,46.3L140.3,44.8L142.5,42.2L143.5,40.3L144.0,37.4L142.2,23.8L140.8,19.0L138.1,16.3L133.7,15.6L129.4,16.2L127.9,17.5L123.5,23.8L117.7,28.5L115.5,31.3L113.0,37.4L112.9,42.2L113.7,45.2L114.8,47.0ZM119.4,46.1L116.9,44.2L115.1,40.3L115.2,37.4L117.5,32.5L119.9,29.9L125.4,25.8L130.1,20.0L133.7,19.3L137.3,20.4L138.9,22.8L142.4,36.4L142.3,39.3L141.4,41.3L138.1,44.3L131.5,46.6L125.0,47.1Z" fill="#feeacc" stroke="#feeacc" stroke-width="0.3" fill-rule="evenodd"/>
<path d="M21.0,60.7L26.8,61.1L28.3,60.7L31.2,58.4L34.8,59.4L48.8,56.8L52.3,53.9L55.2,48.4L56.7,46.9L66.1,42.9L74.1,38.4L84.4,34.5L87.5,32.5L89.9,29.6L93.5,22.8L98.6,9.3L98.9,4.4L97.5,-0.4L97.4,-3.3L91.4,-3.3L91.6,0.5L93.8,7.3L93.8,11.2L91.6,19.9L87.5,27.7L85.2,30.6L81.4,32.6L53.0,41.9L50.7,44.2L47.9,50.5L45.7,52.3L35.6,55.1L32.7,53.9L28.3,58.0L26.1,58.8L23.9,58.7L21.4,57.8L20.3,56.8L18.1,49.0L18.8,45.2L21.5,40.3L23.9,37.9L28.3,36.0L37.0,36.2L41.4,35.3L43.6,33.9L44.7,31.6L44.6,28.7L38.7,18.0L37.3,10.2L38.5,5.2L43.4,-0.4L43.6,-3.3L37.1,-3.3L37.1,-0.4L34.8,8.3L34.3,20.9L33.1,24.8L30.5,26.7L12.7,33.5L9.4,35.5L8.1,37.4L8.2,39.3L11.2,47.1L14.9,51.9L18.3,58.7ZM119.9,46.4L126.4,47.1L132.3,46.4L138.1,44.3L141.4,41.3L142.3,39.3L142.4,36.4L138.9,22.8L137.3,20.4L133.7,19.3L130.1,20.0L125.4,25.8L119.9,29.9L117.5,32.5L115.2,37.4L115.1,40.3L116.9,44.2ZM123.5,45.2L119.9,44.0L117.5,41.3L117.0,38.4L118.5,34.5L120.6,32.2L129.4,27.1L132.3,26.6L135.2,27.6L138.1,30.8L140.7,35.5L141.0,38.4L140.3,40.4L137.3,43.1L133.7,44.6L128.6,45.5Z" fill="#fcd8a0" stroke="#fcd8a0" stroke-width="0.3" fill-rule="evenodd"/>
<path d="M24.7,58.8L28.3,58.0L32.7,53.9L35.6,55.1L46.5,51.9L48.7,49.4L50.8,44.0L53.7,41.5L81.5,32.5L85.7,30.1L87.5,27.7L91.6,19.9L93.8,11.2L93.8,7.3L91.6,0.5L91.4,-3.3L85.3,-3.3L85.2,5.4L87.2,13.1L87.6,18.0L86.5,21.9L83.6,27.8L80.8,29.6L74.8,31.6L65.4,34.2L58.8,34.8L55.2,34.1L52.6,31.6L45.1,19.0L43.7,11.2L44.3,9.3L48.6,5.4L58.1,-0.4L58.4,-3.3L43.6,-3.3L43.4,-0.4L38.5,5.2L37.3,10.2L38.7,18.0L44.6,28.7L44.7,31.6L43.6,33.9L41.4,35.3L37.0,36.2L28.3,36.0L23.9,37.9L21.5,40.3L18.8,45.2L18.1,49.0L20.3,56.8L21.4,57.8ZM25.3,55.8L23.2,53.7L22.5,49.0L23.9,44.2L26.1,42.7L28.9,44.2L31.1,48.1L28.4,53.9L26.8,55.5ZM123.5,45.2L128.6,45.5L133.7,44.6L137.3,43.1L140.3,40.4L141.0,38.4L140.7,35.5L138.1,30.8L135.2,27.6L132.3,26.6L129.4,27.1L120.6,32.2L118.5,34.5L117.0,38.4L117.5,41.3L119.9,44.0ZM122.3,43.2L119.7,41.3L119.0,38.4L120.6,35.3L124.8,32.5L129.4,31.2L132.9,31.6L136.6,33.3L138.4,35.5L139.0,37.4L138.6,39.3L135.4,42.2L128.6,44.0L125.0,43.9Z" fill="#fbbe80" stroke="#fbbe80" stroke-width="0.3" fill-rule="evenodd"/>
<path d="M25.4,55.9L26.8,55.5L28.4,53.9L31.1,48.1L28.9,44.2L26.1,42.7L23.9,44.2L22.5,49.0L23.3,53.9ZM25.2,51.9L24.5,50.0L24.6,48.1L25.4,46.8L26.1,46.7L27.0,48.1L27.1,50.0L26.1,52.2ZM122.8,43.4L128.6,44.0L135.4,42.2L138.6,39.3L139.0,37.4L138.4,35.5L135.9,32.8L132.3,31.4L128.6,31.3L124.3,32.8L120.6,35.3L119.0,38.4L119.7,41.3ZM56.7,34.6L66.1,34.1L79.9,30.0L83.6,27.7L86.5,21.9L87.6,18.0L87.2,13.1L85.2,5.4L85.3,-3.3L79.8,-3.3L79.0,6.4L79.6,10.2L82.1,18.0L81.9,20.9L80.5,23.8L78.7,25.8L73.4,28.5L65.4,30.3L59.6,29.3L56.7,26.7L53.5,19.0L53.1,13.1L54.1,9.3L56.7,7.0L65.4,2.0L66.8,-0.4L66.9,-3.3L58.4,-3.3L58.3,-1.4L57.4,0.2L51.2,3.4L44.3,9.3L43.8,13.1L45.6,19.9L53.0,32.1L54.5,33.6Z" fill="#f6965a" stroke="#f6965a" stroke-width="0.3" fill-rule="evenodd"/>
<path d="M25.4,52.2L26.4,51.9L27.1,50.0L27.0,48.1L26.1,46.7L25.2,47.1L24.5,49.0L24.7,51.0ZM60.3,29.6L65.4,30.3L74.1,28.3L78.5,25.9L81.1,22.8L82.2,19.0L79.1,7.3L79.8,-3.3L66.9,-3.3L66.8,-0.4L65.4,2.0L56.7,7.0L54.1,9.3L53.1,13.1L53.5,19.0L56.7,26.7L58.3,28.7ZM63.7,25.8L61.0,24.0L59.4,21.9L58.5,19.0L58.8,16.1L60.3,13.3L62.5,11.4L68.6,9.3L69.7,1.5L71.2,-1.0L72.6,-1.5L73.8,-0.4L74.5,1.5L74.9,5.4L74.6,11.2L76.8,16.1L77.1,19.9L75.5,22.8L71.9,25.2L67.6,26.3Z" fill="#ea6848" stroke="#ea6848" stroke-width="0.3" fill-rule="evenodd"/>
<path d="M63.9,25.8L68.3,26.2L72.6,24.9L75.5,22.8L77.1,19.9L76.8,16.1L74.6,11.2L74.9,5.4L74.5,1.5L73.8,-0.4L72.6,-1.5L71.2,-1.0L69.7,1.5L68.6,9.3L62.5,11.4L60.3,13.3L58.8,16.1L58.5,19.0L59.4,21.9L61.0,24.0Z" fill="#d63818" stroke="#d63818" stroke-width="0.3" fill-rule="evenodd"/>
</g>
<path d="M2.7,0.1L3.2,2.5L3.8,5.4L4.1,6.8L3.4,8.3L2.1,9.3L2.9,6.8L3.0,5.4L1.4,4.2L-1.5,3.9L-4.4,3.1L-4.1,4.9L-2.6,8.3L-2.2,10.2L-2.1,13.3L-1.7,17.0L-2.1,21.4L-2.4,25.8L-3.0,28.2L-3.9,30.1L-2.6,34.0L-2.2,36.9L-2.4,39.8L-3.3,41.8L-1.3,45.2L-0.8,48.8L1.8,52.2L1.9,53.4L3.6,54.4L3.6,56.3L5.0,58.5L5.8,60.2L5.9,61.9L7.8,64.6L9.6,66.7L10.3,68.4L10.5,70.1L12.7,70.6L15.2,71.3L17.0,72.7L18.5,73.5L18.5,74.3L19.9,74.5L21.0,75.5L22.5,77.4L23.1,79.9L31.9,79.0L31.6,80.1L45.1,85.7L55.6,85.7L55.6,83.6L61.6,83.6L62.8,85.2L65.0,86.9L67.2,88.8L68.6,92.2L69.4,94.1L71.6,95.8L73.6,97.1L74.8,95.8L75.7,93.4L77.7,93.2L80.3,93.3L82.1,95.6L83.6,98.0L84.3,100.4L86.1,103.1L87.2,104.8L87.9,107.5L89.0,109.4L91.2,110.6L93.5,111.4L95.7,111.8L95.2,108.7L95.0,105.3L95.7,102.6L97.7,100.4L100.3,98.7L103.2,96.6L104.5,95.4L106.5,93.9L107.7,93.7L110.1,93.3L112.6,94.1L115.2,94.6L117.4,96.1L119.5,96.6L121.4,96.3L123.9,97.3L124.6,95.6L123.2,93.7L123.5,92.0L123.2,91.2L125.0,90.5L127.5,90.4L128.6,91.0L129.4,89.3L130.4,90.8L132.6,90.5L134.8,90.3L137.2,91.7L138.6,93.7L140.3,93.9L142.1,92.4L143.7,92.0L145.7,94.1L147.2,96.3L148.1,99.0L147.9,101.9L148.6,104.3L149.7,107.0L151.3,109.7L151.9,112.1L153.7,114.5L154.8,115.7L156.6,115.5L157.2,113.5L157.7,111.6L157.9,107.7L157.0,104.8L155.9,100.9L156.1,99.2L155.0,97.0L153.7,94.1L153.2,91.7L152.8,88.8L153.3,86.4L153.9,84.0L154.8,82.3L156.4,80.8L158.4,78.9L160.6,76.7L161.9,74.7L163.3,73.5L165.5,73.3L166.4,71.1L168.4,69.6L170.8,69.4L172.6,67.7L174.4,66.7L174.2,64.1L173.3,61.9L173.0,60.4L172.7,58.7L171.5,58.2L171.5,55.3L171.3,53.2L170.8,51.0L171.2,48.6L171.9,46.6L172.4,45.9L172.8,48.1L172.2,50.5L172.8,52.9L172.7,57.5L173.7,55.8L175.2,53.4L176.1,51.2L175.9,49.5L175.0,48.1L174.2,45.6L174.8,46.6L175.9,47.6L176.4,48.9L177.5,47.6L178.8,45.6L179.5,44.2L179.9,41.5L179.9,40.7L180.2,40.9L182.4,40.6L185.0,39.8L187.5,38.5L185.7,38.9L183.5,39.1L181.0,39.5L181.2,38.9L182.8,38.1L184.2,37.6L186.4,37.4L187.7,37.3L189.1,36.9L189.9,35.5L190.2,36.4L191.1,35.9L192.1,36.2L193.3,35.7L194.6,35.7L194.6,34.2L194.2,33.8L193.7,33.8L192.4,35.0L192.2,34.0L191.1,32.5L191.3,31.3L191.5,29.9L191.9,28.9L193.0,27.5L193.7,26.0L195.1,25.3L197.0,24.5L198.8,22.8L200.2,22.8L202.1,22.1L203.9,21.1L205.3,20.2L204.8,18.7L203.7,16.5L202.4,16.1L202.4,9.4L200.6,8.1L198.4,8.8L197.1,7.6L194.4,11.2L193.3,14.8L191.5,17.5L190.5,18.0L189.0,19.4L182.2,19.4L177.3,19.4L175.2,20.4L173.0,22.4L171.3,23.8L171.9,26.5L170.1,27.5L166.8,27.9L163.5,27.4L161.5,27.8L161.9,29.4L162.1,29.9L159.9,31.8L157.7,33.3L156.2,34.1L154.1,35.0L151.9,36.4L150.1,36.7L148.3,36.7L146.8,35.9L145.5,35.3L145.7,34.0L146.8,33.0L147.5,32.1L148.6,31.3L149.2,29.4L149.3,28.9L148.8,26.2L148.4,24.1L147.2,24.1L145.9,24.8L143.9,26.2L143.9,24.5L145.7,22.8L146.1,20.9L146.1,19.2L145.0,17.8L142.8,16.5L140.8,15.7L139.9,16.5L139.2,18.5L137.9,19.7L137.7,20.7L136.1,20.2L135.3,21.9L134.4,24.3L134.6,26.7L135.3,29.4L135.2,31.6L134.1,33.5L133.2,35.1L131.9,35.8L130.7,35.5L130.3,34.2L129.6,31.6L129.4,29.1L129.9,26.7L130.1,24.8L130.8,23.1L131.5,21.4L132.6,19.9L132.4,18.2L130.8,20.2L129.4,21.6L129.0,21.4L130.3,19.7L130.4,19.0L131.2,17.5L132.4,16.1L134.4,15.1L135.9,15.3L137.9,14.1L139.9,14.6L140.8,15.2L142.1,14.8L143.2,14.7L143.9,14.4L143.2,13.4L141.9,12.2L141.3,12.4L139.7,11.0L137.0,11.2L134.4,12.4L131.2,12.2L130.1,10.7L128.3,10.0L129.4,8.8L128.3,7.6L127.2,8.5L127.2,9.7L125.4,10.5L123.2,10.7L120.3,11.9L118.6,11.4L118.3,10.0L117.0,10.7L115.2,11.2L114.1,11.0L115.2,10.0L116.6,8.8L119.2,6.8L121.4,5.6L123.2,4.9L121.7,4.4L118.8,3.9L116.3,4.7L114.4,3.4L112.3,2.7L109.4,2.0L107.2,1.7L104.8,1.3L103.9,-0.9L103.0,-1.8L103.0,0.1L70.6,0.1L27.0,0.1L2.7,0.1ZM156.6,115.5L156.1,116.4L154.8,117.4L153.3,118.1L151.5,118.6M-2.1,13.3L0.3,13.6L1.8,14.1L2.5,16.3L4.7,16.8L8.3,16.3L11.6,16.0L14.5,15.0L16.3,14.6L23.9,14.6M23.4,0.1L23.4,12.6L23.9,14.6L25.0,15.8L25.4,17.3L24.5,19.4L23.9,21.4L22.8,22.8L23.6,25.3L23.5,34.0M-2.6,34.0L45.2,34.0M12.7,34.0L12.7,48.6L32.2,67.9L32.5,69.9L33.2,71.3L32.7,73.3L31.9,75.7L32.7,77.6L31.9,79.0M32.2,67.9L31.9,65.0L31.9,62.9L34.3,62.1L34.3,58.2M34.3,34.0L34.3,58.2M34.3,58.2L74.5,58.2M74.5,58.2L104.9,58.2M52.5,58.2L52.5,85.7M52.5,58.2L52.5,38.9M45.2,34.0L45.2,38.9L70.6,38.9L77.9,38.9L77.9,43.7M45.2,34.0L45.2,19.4M45.2,21.9L43.9,20.9L40.7,21.9L38.1,20.4L36.3,19.0L34.8,16.5L32.7,16.8L33.2,14.6L33.0,11.7L31.9,11.2L29.8,8.5L28.3,7.6L27.0,5.1L27.0,0.1M45.2,19.4L70.6,19.4M70.6,0.1L70.6,38.9M77.9,43.7L77.9,58.2M70.6,14.9L97.9,14.9M70.6,29.1L90.8,29.1L93.4,29.9L96.3,30.3L97.7,30.6L98.3,31.6M77.9,43.7L102.5,43.7M98.3,31.6L98.8,33.0L99.7,35.0L100.3,37.4L100.6,39.8L100.8,40.8L102.5,43.7M102.5,43.7L103.9,45.9L105.0,47.8L104.9,58.2M74.5,58.2L74.5,60.7L85.4,60.7L85.4,70.1L86.8,71.0L88.3,71.8L90.5,72.1L92.6,72.8L94.1,73.3L95.5,74.0L97.7,73.5L99.9,73.5L101.7,73.4L103.5,73.5L105.4,74.6L107.0,75.0M74.5,60.7L74.3,82.5L61.3,82.5L61.6,83.6M104.9,58.2L104.9,60.7L105.5,66.0L105.4,74.5M107.0,75.0L107.0,77.6L117.5,77.6M107.0,77.6L107.0,82.5L107.9,84.4L108.8,86.4L108.6,88.8L108.3,90.7L107.7,93.7M117.5,77.6L117.7,79.6L118.1,81.5L116.6,84.4L116.1,86.4L115.9,87.3L122.7,87.3L122.6,89.3L123.2,91.2M128.3,67.9L128.6,69.9L128.1,74.3L127.4,83.0L127.5,90.4M117.5,77.6L117.7,75.2L118.4,72.8L119.5,70.9L120.6,68.9L121.0,67.9L121.5,66.0L122.1,64.6L122.8,63.1L123.5,60.7L124.6,58.2M104.9,60.7L121.2,60.7L121.4,63.1L122.8,63.1M100.8,40.8L116.6,40.8M116.6,40.8L116.4,42.7L117.4,45.2L119.2,47.1L121.0,49.3L120.8,51.5L121.7,53.4L123.2,55.3L123.7,56.8L124.6,58.2M98.3,26.7L117.3,26.7M98.3,31.6L97.7,29.1L98.3,26.7L98.3,18.0L97.9,14.9L97.0,11.7L96.8,8.3L96.3,3.9L95.4,0.1M117.3,26.7L117.7,30.4L119.4,31.6L121.0,35.0L119.5,36.4L118.1,37.9L117.7,39.8L116.6,40.8M117.3,26.7L116.3,24.3L113.4,21.9L111.5,20.7L111.7,18.0L111.5,16.5L113.4,14.1L113.4,11.4L114.1,11.0M119.4,31.6L129.6,31.6M120.3,11.9L121.4,13.1L125.0,14.1L128.6,15.6L129.7,17.8L130.4,19.0M130.7,35.5L130.7,46.6L130.4,49.3L129.4,51.9L128.8,54.4M128.8,54.4L128.3,55.8L127.2,57.8L124.6,58.2M133.3,35.2L140.6,35.5L145.5,35.3M140.6,35.5L140.5,48.1M140.5,48.1L139.2,49.8L138.1,50.5L136.8,51.9L135.2,52.9L134.1,53.9L132.3,54.1L130.4,53.6L128.8,54.4M140.5,48.1L141.9,48.1L143.5,49.5L144.8,50.3L147.2,50.0L148.6,51.4L149.9,49.8L150.8,48.6L151.7,47.6L153.3,46.9L155.0,44.9L155.5,42.7L155.9,40.7L156.2,40.6M156.2,40.6L156.2,34.1M156.2,40.6L156.2,45.1L160.0,45.1L160.0,47.6L161.3,46.4L162.8,45.9L164.2,45.5L166.1,47.0M166.1,47.0L165.3,48.1L163.9,48.6L162.2,49.8L160.6,51.5L159.2,53.4L157.7,55.1L157.0,56.1L155.0,56.6L153.3,57.0L151.9,57.3L150.9,55.6M148.6,51.4L148.8,52.9L149.5,54.4L150.9,55.6M150.9,55.6L149.3,56.8L146.8,58.5L144.7,60.2M144.7,60.2L136.3,60.0L128.8,60.7L123.5,60.7M144.7,60.2L152.1,60.2L173.0,60.4M152.1,60.2L151.0,62.1L148.6,63.3L146.8,64.3L145.0,65.3L143.5,66.3L142.4,67.9M142.4,67.9L121.0,67.9M142.4,67.9L146.8,67.9L149.3,67.0L154.3,67.2L154.8,68.9L159.2,68.9L163.3,73.5M146.8,67.9L148.3,70.1L150.1,72.8L151.2,75.7L152.8,78.1L153.9,81.0L154.8,82.3M137.7,67.9L139.2,78.1L139.9,80.6L139.5,83.5L139.9,87.3M139.9,87.3L140.3,88.8L147.2,89.3L150.1,89.4L150.6,88.6L152.8,88.8M139.9,87.3L130.4,87.3L131.0,90.3L130.4,90.8M158.9,32.7L158.9,34.0L175.0,34.0L175.9,35.0L177.3,37.2M177.3,37.2L179.9,38.9L179.9,40.3M177.3,37.2L175.9,39.6L176.1,41.5L177.2,42.7L175.9,43.9L174.4,44.7M174.4,44.7L173.4,45.1L160.0,45.1M173.4,45.1L173.7,51.2L176.1,51.2M166.1,47.0L167.2,48.1L168.6,48.9L169.0,50.5L168.2,51.7L170.4,52.7L171.5,53.6M172.8,53.6L174.1,53.6M182.2,19.4L182.2,21.9L182.4,24.3L182.6,26.5L182.5,30.4M182.5,30.4L181.7,33.8L181.7,37.4L181.2,38.9M189.0,19.4L188.4,20.9L187.0,22.6L186.1,25.8L185.7,28.2L185.5,30.5M182.5,30.4L185.5,30.5L189.7,30.6L191.3,29.8M181.7,33.8L187.9,33.9L189.4,33.9L189.5,35.2L190.2,36.4M187.9,33.9L187.7,37.3M190.5,18.0L190.8,22.4L191.0,26.2L191.9,28.9" fill="none" stroke="#2a2a2a" stroke-width="0.45" stroke-opacity="0.85" stroke-linejoin="round"/>
</g></svg>
<svg class="cb" style="left:58px;top:130px" width="124" height="12"><g transform="translate(0,0.00)">
<rect x="0.30" y="0" width="10.35" height="6.00" fill="#589cd2"/>
<rect x="10.40" y="0" width="10.65" height="6.00" fill="#80b8e1"/>
<rect x="20.80" y="0" width="10.25" height="6.00" fill="#acd2ea"/>
<rect x="30.80" y="0" width="7.45" height="6.00" fill="#cee0f2"/>
<rect x="38.00" y="0" width="10.25" height="6.00" fill="#e2ecf8"/>
<rect x="48.00" y="0" width="8.35" height="6.00" fill="#f5faff"/>
<rect x="56.10" y="0" width="10.05" height="6.00" fill="#fef7ec"/>
<rect x="65.90" y="0" width="7.95" height="6.00" fill="#feeacc"/>
<rect x="73.60" y="0" width="10.65" height="6.00" fill="#fcd8a0"/>
<rect x="84.00" y="0" width="10.15" height="6.00" fill="#fbbe80"/>
<rect x="93.90" y="0" width="7.55" height="6.00" fill="#f6965a"/>
<rect x="101.20" y="0" width="10.15" height="6.00" fill="#ea6848"/>
<rect x="111.10" y="0" width="10.25" height="6.00" fill="#d63818"/>
<rect x="0.30" y="0" width="120.80" height="6.00" fill="none" stroke="#666" stroke-width="0.35"/>
<line x1="0.30" y1="6.00" x2="0.30" y2="7.50" stroke="#444" stroke-width="0.55"/>
<line x1="12.90" y1="6.00" x2="12.90" y2="7.50" stroke="#444" stroke-width="0.55"/>
<line x1="25.50" y1="6.00" x2="25.50" y2="7.50" stroke="#444" stroke-width="0.55"/>
<line x1="38.10" y1="6.00" x2="38.10" y2="7.50" stroke="#444" stroke-width="0.55"/>
<line x1="50.70" y1="6.00" x2="50.70" y2="7.50" stroke="#444" stroke-width="0.55"/>
<line x1="63.30" y1="6.00" x2="63.30" y2="7.50" stroke="#444" stroke-width="0.55"/>
<line x1="75.90" y1="6.00" x2="75.90" y2="7.50" stroke="#444" stroke-width="0.55"/>
<line x1="88.50" y1="6.00" x2="88.50" y2="7.50" stroke="#444" stroke-width="0.55"/>
<line x1="101.10" y1="6.00" x2="101.10" y2="7.50" stroke="#444" stroke-width="0.55"/>
<line x1="113.70" y1="6.00" x2="113.70" y2="7.50" stroke="#444" stroke-width="0.55"/>
</g></svg>
<div class="t" style="left:-41.70px;width:200px;text-align:center;top:139.15px;font-size:6.2px;color:#1e1e1e;font-weight:400;letter-spacing:0px;transform:scaleX(0.92);transform-origin:50% 0">4</div>
<div class="t" style="left:-29.10px;width:200px;text-align:center;top:139.15px;font-size:6.2px;color:#1e1e1e;font-weight:400;letter-spacing:0px;transform:scaleX(0.92);transform-origin:50% 0">5</div>
<div class="t" style="left:-16.50px;width:200px;text-align:center;top:139.15px;font-size:6.2px;color:#1e1e1e;font-weight:400;letter-spacing:0px;transform:scaleX(0.92);transform-origin:50% 0">6</div>
<div class="t" style="left:-3.90px;width:200px;text-align:center;top:139.15px;font-size:6.2px;color:#1e1e1e;font-weight:400;letter-spacing:0px;transform:scaleX(0.92);transform-origin:50% 0">7</div>
<div class="t" style="left:8.70px;width:200px;text-align:center;top:139.15px;font-size:6.2px;color:#1e1e1e;font-weight:400;letter-spacing:0px;transform:scaleX(0.92);transform-origin:50% 0">8</div>
<div class="t" style="left:21.30px;width:200px;text-align:center;top:139.15px;font-size:6.2px;color:#1e1e1e;font-weight:400;letter-spacing:0px;transform:scaleX(0.92);transform-origin:50% 0">9</div>
<div class="t" style="left:33.90px;width:200px;text-align:center;top:139.15px;font-size:6.2px;color:#1e1e1e;font-weight:400;letter-spacing:0px;transform:scaleX(0.92);transform-origin:50% 0">10</div>
<div class="t" style="left:46.50px;width:200px;text-align:center;top:139.15px;font-size:6.2px;color:#1e1e1e;font-weight:400;letter-spacing:0px;transform:scaleX(0.92);transform-origin:50% 0">11</div>
<div class="t" style="left:59.10px;width:200px;text-align:center;top:139.15px;font-size:6.2px;color:#1e1e1e;font-weight:400;letter-spacing:0px;transform:scaleX(0.92);transform-origin:50% 0">12</div>
<div class="t" style="left:71.70px;width:200px;text-align:center;top:139.15px;font-size:6.2px;color:#1e1e1e;font-weight:400;letter-spacing:0px;transform:scaleX(0.92);transform-origin:50% 0">13</div>
<div class="t" style="left:23.00px;width:200px;text-align:center;top:152.97px;font-size:8.9px;color:#222;font-weight:400;letter-spacing:0px;transform:scaleX(0.91);transform-origin:50% 0">PM2.5 (&micro;g/m<span style="position:relative;top:-0.42em;font-size:0.62em">3</span>)</div>
<svg class="cb" style="left:286px;top:130px" width="124" height="12"><g transform="translate(0,0.90)">
<rect x="0.30" y="0" width="10.85" height="5.40" fill="#589cd2"/>
<rect x="10.90" y="0" width="10.25" height="5.40" fill="#80b8e1"/>
<rect x="20.90" y="0" width="10.85" height="5.40" fill="#acd2ea"/>
<rect x="31.50" y="0" width="6.75" height="5.40" fill="#cee0f2"/>
<rect x="38.00" y="0" width="11.25" height="5.40" fill="#e2ecf8"/>
<rect x="49.00" y="0" width="7.15" height="5.40" fill="#f5faff"/>
<rect x="55.90" y="0" width="10.35" height="5.40" fill="#fef7ec"/>
<rect x="66.00" y="0" width="10.55" height="5.40" fill="#feeacc"/>
<rect x="76.30" y="0" width="7.05" height="5.40" fill="#fcd8a0"/>
<rect x="83.10" y="0" width="10.95" height="5.40" fill="#fbbe80"/>
<rect x="93.80" y="0" width="10.75" height="5.40" fill="#f6965a"/>
<rect x="104.30" y="0" width="6.85" height="5.40" fill="#ea6848"/>
<rect x="110.90" y="0" width="10.45" height="5.40" fill="#d63818"/>
<rect x="0.30" y="0" width="120.80" height="5.40" fill="none" stroke="#666" stroke-width="0.35"/>
<line x1="0.80" y1="5.40" x2="0.80" y2="6.90" stroke="#444" stroke-width="0.55"/>
<line x1="14.61" y1="5.40" x2="14.61" y2="6.90" stroke="#444" stroke-width="0.55"/>
<line x1="28.42" y1="5.40" x2="28.42" y2="6.90" stroke="#444" stroke-width="0.55"/>
<line x1="42.23" y1="5.40" x2="42.23" y2="6.90" stroke="#444" stroke-width="0.55"/>
<line x1="56.04" y1="5.40" x2="56.04" y2="6.90" stroke="#444" stroke-width="0.55"/>
<line x1="69.85" y1="5.40" x2="69.85" y2="6.90" stroke="#444" stroke-width="0.55"/>
<line x1="83.66" y1="5.40" x2="83.66" y2="6.90" stroke="#444" stroke-width="0.55"/>
<line x1="97.47" y1="5.40" x2="97.47" y2="6.90" stroke="#444" stroke-width="0.55"/>
<line x1="111.28" y1="5.40" x2="111.28" y2="6.90" stroke="#444" stroke-width="0.55"/>
</g></svg>
<div class="t" style="left:186.80px;width:200px;text-align:center;top:139.15px;font-size:6.2px;color:#1e1e1e;font-weight:400;letter-spacing:0px;transform:scaleX(0.92);transform-origin:50% 0">0</div>
<div class="t" style="left:200.61px;width:200px;text-align:center;top:139.15px;font-size:6.2px;color:#1e1e1e;font-weight:400;letter-spacing:0px;transform:scaleX(0.92);transform-origin:50% 0">6</div>
<div class="t" style="left:214.42px;width:200px;text-align:center;top:139.15px;font-size:6.2px;color:#1e1e1e;font-weight:400;letter-spacing:0px;transform:scaleX(0.92);transform-origin:50% 0">12</div>
<div class="t" style="left:228.23px;width:200px;text-align:center;top:139.15px;font-size:6.2px;color:#1e1e1e;font-weight:400;letter-spacing:0px;transform:scaleX(0.92);transform-origin:50% 0">18</div>
<div class="t" style="left:242.04px;width:200px;text-align:center;top:139.15px;font-size:6.2px;color:#1e1e1e;font-weight:400;letter-spacing:0px;transform:scaleX(0.92);transform-origin:50% 0">24</div>
<div class="t" style="left:255.85px;width:200px;text-align:center;top:139.15px;font-size:6.2px;color:#1e1e1e;font-weight:400;letter-spacing:0px;transform:scaleX(0.92);transform-origin:50% 0">30</div>
<div class="t" style="left:269.66px;width:200px;text-align:center;top:139.15px;font-size:6.2px;color:#1e1e1e;font-weight:400;letter-spacing:0px;transform:scaleX(0.92);transform-origin:50% 0">36</div>
<div class="t" style="left:283.47px;width:200px;text-align:center;top:139.15px;font-size:6.2px;color:#1e1e1e;font-weight:400;letter-spacing:0px;transform:scaleX(0.92);transform-origin:50% 0">42</div>
<div class="t" style="left:297.28px;width:200px;text-align:center;top:139.15px;font-size:6.2px;color:#1e1e1e;font-weight:400;letter-spacing:0px;transform:scaleX(0.92);transform-origin:50% 0">48</div>
<div class="t" style="left:246.80px;width:200px;text-align:center;top:150.87px;font-size:8.9px;color:#222;font-weight:400;letter-spacing:0px;transform:scaleX(0.924);transform-origin:50% 0">Smoke covered days</div>
<div class="t" style="left:246.80px;width:200px;text-align:center;top:161.37px;font-size:8.9px;color:#222;font-weight:400;letter-spacing:0px;transform:scaleX(0.94);transform-origin:50% 0">over 120 days</div>
<svg class="cb" style="left:514px;top:130px" width="124" height="12"><g transform="translate(0,0.40)">
<rect x="0.30" y="0" width="10.55" height="5.40" fill="#589cd2"/>
<rect x="10.60" y="0" width="10.55" height="5.40" fill="#80b8e1"/>
<rect x="20.90" y="0" width="7.45" height="5.40" fill="#acd2ea"/>
<rect x="28.10" y="0" width="10.35" height="5.40" fill="#cee0f2"/>
<rect x="38.20" y="0" width="8.15" height="5.40" fill="#e2ecf8"/>
<rect x="46.10" y="0" width="10.55" height="5.40" fill="#f5faff"/>
<rect x="56.40" y="0" width="9.85" height="5.40" fill="#fef7ec"/>
<rect x="66.00" y="0" width="8.35" height="5.40" fill="#feeacc"/>
<rect x="74.10" y="0" width="10.35" height="5.40" fill="#fcd8a0"/>
<rect x="84.20" y="0" width="10.35" height="5.40" fill="#fbbe80"/>
<rect x="94.30" y="0" width="7.95" height="5.40" fill="#f6965a"/>
<rect x="102.00" y="0" width="10.35" height="5.40" fill="#ea6848"/>
<rect x="112.10" y="0" width="9.75" height="5.40" fill="#d63818"/>
<rect x="0.30" y="0" width="121.30" height="5.40" fill="none" stroke="#666" stroke-width="0.35"/>
<line x1="0.60" y1="5.40" x2="0.60" y2="6.90" stroke="#444" stroke-width="0.55"/>
<line x1="13.23" y1="5.40" x2="13.23" y2="6.90" stroke="#444" stroke-width="0.55"/>
<line x1="25.86" y1="5.40" x2="25.86" y2="6.90" stroke="#444" stroke-width="0.55"/>
<line x1="38.49" y1="5.40" x2="38.49" y2="6.90" stroke="#444" stroke-width="0.55"/>
<line x1="51.12" y1="5.40" x2="51.12" y2="6.90" stroke="#444" stroke-width="0.55"/>
<line x1="63.75" y1="5.40" x2="63.75" y2="6.90" stroke="#444" stroke-width="0.55"/>
<line x1="76.38" y1="5.40" x2="76.38" y2="6.90" stroke="#444" stroke-width="0.55"/>
<line x1="89.01" y1="5.40" x2="89.01" y2="6.90" stroke="#444" stroke-width="0.55"/>
<line x1="101.64" y1="5.40" x2="101.64" y2="6.90" stroke="#444" stroke-width="0.55"/>
<line x1="114.27" y1="5.40" x2="114.27" y2="6.90" stroke="#444" stroke-width="0.55"/>
</g></svg>
<div class="t" style="left:414.60px;width:200px;text-align:center;top:139.15px;font-size:6.2px;color:#1e1e1e;font-weight:400;letter-spacing:0px;transform:scaleX(0.92);transform-origin:50% 0">44</div>
<div class="t" style="left:427.23px;width:200px;text-align:center;top:139.15px;font-size:6.2px;color:#1e1e1e;font-weight:400;letter-spacing:0px;transform:scaleX(0.92);transform-origin:50% 0">54</div>
<div class="t" style="left:439.86px;width:200px;text-align:center;top:139.15px;font-size:6.2px;color:#1e1e1e;font-weight:400;letter-spacing:0px;transform:scaleX(0.92);transform-origin:50% 0">64</div>
<div class="t" style="left:452.49px;width:200px;text-align:center;top:139.15px;font-size:6.2px;color:#1e1e1e;font-weight:400;letter-spacing:0px;transform:scaleX(0.92);transform-origin:50% 0">74</div>
<div class="t" style="left:465.12px;width:200px;text-align:center;top:139.15px;font-size:6.2px;color:#1e1e1e;font-weight:400;letter-spacing:0px;transform:scaleX(0.92);transform-origin:50% 0">84</div>
<div class="t" style="left:477.75px;width:200px;text-align:center;top:139.15px;font-size:6.2px;color:#1e1e1e;font-weight:400;letter-spacing:0px;transform:scaleX(0.92);transform-origin:50% 0">94</div>
<div class="t" style="left:490.38px;width:200px;text-align:center;top:139.15px;font-size:6.2px;color:#1e1e1e;font-weight:400;letter-spacing:0px;transform:scaleX(0.92);transform-origin:50% 0">104</div>
<div class="t" style="left:503.01px;width:200px;text-align:center;top:139.15px;font-size:6.2px;color:#1e1e1e;font-weight:400;letter-spacing:0px;transform:scaleX(0.92);transform-origin:50% 0">114</div>
<div class="t" style="left:515.64px;width:200px;text-align:center;top:139.15px;font-size:6.2px;color:#1e1e1e;font-weight:400;letter-spacing:0px;transform:scaleX(0.92);transform-origin:50% 0">124</div>
<div class="t" style="left:528.27px;width:200px;text-align:center;top:139.15px;font-size:6.2px;color:#1e1e1e;font-weight:400;letter-spacing:0px;transform:scaleX(0.92);transform-origin:50% 0">134</div>
<div class="t" style="left:474.00px;width:200px;text-align:center;top:150.87px;font-size:8.9px;color:#222;font-weight:400;letter-spacing:0px;transform:scaleX(0.939);transform-origin:50% 0">Total degree over</div>
<div class="t" style="left:474.00px;width:200px;text-align:center;top:161.17px;font-size:8.9px;color:#222;font-weight:400;letter-spacing:0px;transform:scaleX(0.9);transform-origin:50% 0">120 days</div>
<div class="t" style="left:0.50px;top:124.87px;font-size:11.5px;color:#111;font-weight:700;letter-spacing:0px;transform:scaleX(1.03);transform-origin:0 0">a.</div>
<div class="t" style="left:234.20px;top:124.87px;font-size:11.5px;color:#111;font-weight:700;letter-spacing:0px;transform:scaleX(1.0);transform-origin:0 0">b.</div>
<div class="t" style="left:472.40px;top:125.87px;font-size:11.5px;color:#111;font-weight:700;letter-spacing:0px;transform:scaleX(1.0);transform-origin:0 0">c.</div>
<div class="t" style="left:96.10px;top:338.77px;font-size:11.5px;color:#111;font-weight:700;letter-spacing:0px;transform:scaleX(1.0);transform-origin:0 0">d.</div>
<div class="t" style="left:314.00px;top:338.77px;font-size:11.5px;color:#111;font-weight:700;letter-spacing:0px;transform:scaleX(1.0);transform-origin:0 0">e.</div>
<svg class="plot" style="left:0;top:0" width="685" height="357" viewBox="0 0 685 357">
<circle cx="193.4" cy="210.8" r="2.7" fill="#e6e6e6"/>
<circle cx="175.5" cy="240.5" r="2.7" fill="#e6e6e6"/>
<circle cx="205.2" cy="236.3" r="2.7" fill="#e6e6e6"/>
<circle cx="185.6" cy="242.2" r="2.7" fill="#e6e6e6"/>
<circle cx="190.1" cy="242.7" r="2.7" fill="#e6e6e6"/>
<circle cx="194.6" cy="243.9" r="2.7" fill="#e6e6e6"/>
<circle cx="197.4" cy="246.1" r="2.7" fill="#e6e6e6"/>
<circle cx="189" cy="245.5" r="2.7" fill="#e6e6e6"/>
<circle cx="219.1" cy="236.5" r="2.7" fill="#e6e6e6"/>
<circle cx="227" cy="229.6" r="2.7" fill="#e6e6e6"/>
<circle cx="219.4" cy="236.2" r="2.7" fill="#e6e6e6"/>
<circle cx="233.1" cy="234.3" r="2.7" fill="#e6e6e6"/>
<circle cx="233.1" cy="239.5" r="2.7" fill="#e6e6e6"/>
<circle cx="241" cy="236.2" r="2.7" fill="#e6e6e6"/>
<circle cx="244.5" cy="233.1" r="2.7" fill="#e6e6e6"/>
<circle cx="245.1" cy="236.6" r="2.7" fill="#e6e6e6"/>
<circle cx="263.2" cy="236.2" r="2.7" fill="#e6e6e6"/>
<circle cx="266.7" cy="241.3" r="2.7" fill="#e6e6e6"/>
<circle cx="274.9" cy="230.4" r="2.7" fill="#e6e6e6"/>
<circle cx="280.7" cy="226.4" r="2.7" fill="#e6e6e6"/>
<circle cx="284.8" cy="231.3" r="2.7" fill="#e6e6e6"/>
<circle cx="282.8" cy="243.6" r="2.7" fill="#e6e6e6"/>
<circle cx="284.8" cy="260.5" r="2.7" fill="#e6e6e6"/>
<circle cx="284.8" cy="261.5" r="2.7" fill="#e6e6e6"/>
<circle cx="276.6" cy="266.2" r="2.7" fill="#e6e6e6"/>
<circle cx="270.8" cy="266.2" r="2.7" fill="#e6e6e6"/>
<circle cx="279" cy="273.8" r="2.7" fill="#e6e6e6"/>
<circle cx="284.8" cy="282.5" r="2.7" fill="#e6e6e6"/>
<circle cx="264.4" cy="280.8" r="2.7" fill="#e6e6e6"/>
<circle cx="259.1" cy="281.9" r="2.7" fill="#e6e6e6"/>
<circle cx="254.5" cy="281.4" r="2.7" fill="#e6e6e6"/>
<circle cx="246.9" cy="284.3" r="2.7" fill="#e6e6e6"/>
<circle cx="255" cy="288.4" r="2.7" fill="#e6e6e6"/>
<circle cx="257.4" cy="289" r="2.7" fill="#e6e6e6"/>
<circle cx="263.2" cy="289" r="2.7" fill="#e6e6e6"/>
<circle cx="234.6" cy="281.4" r="2.7" fill="#e6e6e6"/>
<circle cx="228.8" cy="280.8" r="2.7" fill="#e6e6e6"/>
<circle cx="223.5" cy="284.9" r="2.7" fill="#e6e6e6"/>
<circle cx="229.4" cy="288.4" r="2.7" fill="#e6e6e6"/>
<circle cx="231.7" cy="287.8" r="2.7" fill="#e6e6e6"/>
<circle cx="220" cy="277.9" r="2.7" fill="#e6e6e6"/>
<circle cx="214.2" cy="278.4" r="2.7" fill="#e6e6e6"/>
<circle cx="255" cy="296" r="2.7" fill="#e6e6e6"/>
<circle cx="229.5" cy="288.6" r="2.7" fill="#e6e6e6"/>
<circle cx="222.9" cy="286" r="2.7" fill="#e6e6e6"/>
<circle cx="255.8" cy="288.6" r="2.7" fill="#e6e6e6"/>
<circle cx="263" cy="288.6" r="2.7" fill="#e6e6e6"/>
<circle cx="205.4" cy="296.5" r="2.7" fill="#e6e6e6"/>
<circle cx="211.3" cy="296.5" r="2.7" fill="#e6e6e6"/>
<circle cx="255.1" cy="296.5" r="2.7" fill="#e6e6e6"/>
<circle cx="181.3" cy="304" r="2.7" fill="#e6e6e6"/>
<circle cx="201" cy="304" r="2.7" fill="#e6e6e6"/>
<circle cx="205.8" cy="304" r="2.7" fill="#e6e6e6"/>
<circle cx="249.2" cy="304" r="2.7" fill="#e6e6e6"/>
<circle cx="271.1" cy="300.9" r="2.7" fill="#e6e6e6"/>
<circle cx="189.4" cy="311.6" r="2.7" fill="#e6e6e6"/>
<circle cx="253.1" cy="318.8" r="2.7" fill="#e6e6e6"/>
<circle cx="151.4" cy="272.6" r="2.7" fill="#e6e6e6"/>
<circle cx="149.2" cy="278.2" r="2.7" fill="#e6e6e6"/>
<circle cx="153.6" cy="281.5" r="2.7" fill="#e6e6e6"/>
<circle cx="155.3" cy="265.8" r="2.7" fill="#e6e6e6"/>
<circle cx="159.8" cy="265.8" r="2.7" fill="#e6e6e6"/>
<circle cx="157.6" cy="273.7" r="2.7" fill="#e6e6e6"/>
<circle cx="162.1" cy="274.8" r="2.7" fill="#e6e6e6"/>
<circle cx="159.8" cy="269.2" r="2.7" fill="#e6e6e6"/>
<circle cx="159.6" cy="251.1" r="2.7" fill="#e6e6e6"/>
<circle cx="167.1" cy="250" r="2.7" fill="#e6e6e6"/>
<circle cx="155.3" cy="258.4" r="2.7" fill="#e6e6e6"/>
<circle cx="161.5" cy="258.4" r="2.7" fill="#e6e6e6"/>
<circle cx="150.5" cy="262.5" r="2.7" fill="#e6e6e6"/>
<circle cx="176" cy="288.6" r="2.7" fill="#e6e6e6"/>
<circle cx="179.5" cy="288.6" r="2.7" fill="#e6e6e6"/>
<circle cx="183" cy="288.6" r="2.7" fill="#e6e6e6"/>
<circle cx="186.5" cy="288.6" r="2.7" fill="#e6e6e6"/>
<circle cx="190" cy="288.6" r="2.7" fill="#e6e6e6"/>
<circle cx="193.5" cy="288.6" r="2.7" fill="#e6e6e6"/>
<circle cx="197" cy="288.6" r="2.7" fill="#e6e6e6"/>
<circle cx="200.5" cy="288.6" r="2.7" fill="#e6e6e6"/>
<circle cx="204" cy="288.6" r="2.7" fill="#e6e6e6"/>
<circle cx="177" cy="296.5" r="2.7" fill="#e6e6e6"/>
<circle cx="180.5" cy="296.5" r="2.7" fill="#e6e6e6"/>
<circle cx="184" cy="296.5" r="2.7" fill="#e6e6e6"/>
<circle cx="187.5" cy="296.5" r="2.7" fill="#e6e6e6"/>
<circle cx="269.1" cy="251.2" r="2.7" fill="#e6e6e6"/>
<circle cx="265" cy="251.2" r="2.7" fill="#e6e6e6"/>
<circle cx="265" cy="258.8" r="2.7" fill="#e6e6e6"/>
<circle cx="274.9" cy="258.8" r="2.7" fill="#e6e6e6"/>
<circle cx="253.3" cy="253.5" r="2.7" fill="#e6e6e6"/>
<circle cx="259.1" cy="253.3" r="2.7" fill="#e6e6e6"/>
<circle cx="253.3" cy="258.8" r="2.7" fill="#e6e6e6"/>
<circle cx="265" cy="243.6" r="2.7" fill="#e6e6e6"/>
<circle cx="217.3" cy="246.5" r="2.7" fill="#e6e6e6"/>
<circle cx="223.0" cy="245.8" r="2.7" fill="#e6e6e6"/>
<circle cx="227.7" cy="244.7" r="2.7" fill="#e6e6e6"/>
<circle cx="231.0" cy="246.3" r="2.7" fill="#e6e6e6"/>
<circle cx="236.9" cy="244.9" r="2.7" fill="#e6e6e6"/>
<circle cx="189.7" cy="250.4" r="2.7" fill="#e6e6e6"/>
<circle cx="203.5" cy="249.3" r="2.7" fill="#e6e6e6"/>
<circle cx="209.4" cy="251.1" r="2.7" fill="#e6e6e6"/>
<circle cx="215.1" cy="250.5" r="2.7" fill="#e6e6e6"/>
<circle cx="220.5" cy="250.3" r="2.7" fill="#e6e6e6"/>
<circle cx="223.4" cy="249.8" r="2.7" fill="#e6e6e6"/>
<circle cx="228.6" cy="249.8" r="2.7" fill="#e6e6e6"/>
<circle cx="234.2" cy="250.5" r="2.7" fill="#e6e6e6"/>
<circle cx="238.9" cy="251.0" r="2.7" fill="#e6e6e6"/>
<circle cx="244.4" cy="250.7" r="2.7" fill="#e6e6e6"/>
<circle cx="250.6" cy="249.0" r="2.7" fill="#e6e6e6"/>
<circle cx="254.4" cy="250.7" r="2.7" fill="#e6e6e6"/>
<circle cx="261.4" cy="250.2" r="2.7" fill="#e6e6e6"/>
<circle cx="181.8" cy="254.1" r="2.7" fill="#e6e6e6"/>
<circle cx="187.3" cy="253.0" r="2.7" fill="#e6e6e6"/>
<circle cx="192.6" cy="253.6" r="2.7" fill="#e6e6e6"/>
<circle cx="196.7" cy="255.0" r="2.7" fill="#e6e6e6"/>
<circle cx="206.5" cy="253.9" r="2.7" fill="#e6e6e6"/>
<circle cx="210.8" cy="253.5" r="2.7" fill="#e6e6e6"/>
<circle cx="216.6" cy="255.0" r="2.7" fill="#e6e6e6"/>
<circle cx="222.9" cy="254.9" r="2.7" fill="#e6e6e6"/>
<circle cx="226.5" cy="255.0" r="2.7" fill="#e6e6e6"/>
<circle cx="231.0" cy="255.5" r="2.7" fill="#e6e6e6"/>
<circle cx="238.0" cy="254.3" r="2.7" fill="#e6e6e6"/>
<circle cx="241.1" cy="253.4" r="2.7" fill="#e6e6e6"/>
<circle cx="247.6" cy="253.4" r="2.7" fill="#e6e6e6"/>
<circle cx="251.7" cy="254.3" r="2.7" fill="#e6e6e6"/>
<circle cx="258.2" cy="253.7" r="2.7" fill="#e6e6e6"/>
<circle cx="261.6" cy="253.4" r="2.7" fill="#e6e6e6"/>
<circle cx="167.3" cy="258.9" r="2.7" fill="#e6e6e6"/>
<circle cx="179.2" cy="259.1" r="2.7" fill="#e6e6e6"/>
<circle cx="182.5" cy="258.5" r="2.7" fill="#e6e6e6"/>
<circle cx="192.8" cy="257.9" r="2.7" fill="#e6e6e6"/>
<circle cx="198.9" cy="259.7" r="2.7" fill="#e6e6e6"/>
<circle cx="208.1" cy="259.9" r="2.7" fill="#e6e6e6"/>
<circle cx="213.9" cy="257.7" r="2.7" fill="#e6e6e6"/>
<circle cx="219.0" cy="259.6" r="2.7" fill="#e6e6e6"/>
<circle cx="223.4" cy="259.8" r="2.7" fill="#e6e6e6"/>
<circle cx="228.6" cy="257.7" r="2.7" fill="#e6e6e6"/>
<circle cx="233.6" cy="259.0" r="2.7" fill="#e6e6e6"/>
<circle cx="238.6" cy="259.5" r="2.7" fill="#e6e6e6"/>
<circle cx="246.0" cy="259.1" r="2.7" fill="#e6e6e6"/>
<circle cx="256.3" cy="259.0" r="2.7" fill="#e6e6e6"/>
<circle cx="264.4" cy="258.1" r="2.7" fill="#e6e6e6"/>
<circle cx="270.5" cy="258.7" r="2.7" fill="#e6e6e6"/>
<circle cx="160.5" cy="263.2" r="2.7" fill="#e6e6e6"/>
<circle cx="165.2" cy="262.8" r="2.7" fill="#e6e6e6"/>
<circle cx="174.9" cy="262.3" r="2.7" fill="#e6e6e6"/>
<circle cx="182.4" cy="261.8" r="2.7" fill="#e6e6e6"/>
<circle cx="190.2" cy="262.0" r="2.7" fill="#e6e6e6"/>
<circle cx="196.6" cy="263.9" r="2.7" fill="#e6e6e6"/>
<circle cx="201.0" cy="263.9" r="2.7" fill="#e6e6e6"/>
<circle cx="205.7" cy="263.9" r="2.7" fill="#e6e6e6"/>
<circle cx="210.9" cy="263.4" r="2.7" fill="#e6e6e6"/>
<circle cx="216.2" cy="263.1" r="2.7" fill="#e6e6e6"/>
<circle cx="221.9" cy="263.2" r="2.7" fill="#e6e6e6"/>
<circle cx="227.8" cy="262.5" r="2.7" fill="#e6e6e6"/>
<circle cx="232.2" cy="262.6" r="2.7" fill="#e6e6e6"/>
<circle cx="237.2" cy="262.8" r="2.7" fill="#e6e6e6"/>
<circle cx="242.3" cy="261.9" r="2.7" fill="#e6e6e6"/>
<circle cx="246.3" cy="263.9" r="2.7" fill="#e6e6e6"/>
<circle cx="253.7" cy="263.5" r="2.7" fill="#e6e6e6"/>
<circle cx="257.5" cy="262.9" r="2.7" fill="#e6e6e6"/>
<circle cx="262.4" cy="263.5" r="2.7" fill="#e6e6e6"/>
<circle cx="267.5" cy="263.2" r="2.7" fill="#e6e6e6"/>
<circle cx="153.6" cy="268.4" r="2.7" fill="#e6e6e6"/>
<circle cx="159.4" cy="268.3" r="2.7" fill="#e6e6e6"/>
<circle cx="162.5" cy="267.4" r="2.7" fill="#e6e6e6"/>
<circle cx="173.4" cy="267.9" r="2.7" fill="#e6e6e6"/>
<circle cx="179.9" cy="267.3" r="2.7" fill="#e6e6e6"/>
<circle cx="184.5" cy="267.4" r="2.7" fill="#e6e6e6"/>
<circle cx="188.2" cy="268.7" r="2.7" fill="#e6e6e6"/>
<circle cx="194.3" cy="266.9" r="2.7" fill="#e6e6e6"/>
<circle cx="198.3" cy="267.0" r="2.7" fill="#e6e6e6"/>
<circle cx="203.8" cy="267.1" r="2.7" fill="#e6e6e6"/>
<circle cx="213.2" cy="266.7" r="2.7" fill="#e6e6e6"/>
<circle cx="225.0" cy="267.3" r="2.7" fill="#e6e6e6"/>
<circle cx="230.1" cy="267.0" r="2.7" fill="#e6e6e6"/>
<circle cx="234.1" cy="267.2" r="2.7" fill="#e6e6e6"/>
<circle cx="238.9" cy="266.9" r="2.7" fill="#e6e6e6"/>
<circle cx="244.8" cy="268.3" r="2.7" fill="#e6e6e6"/>
<circle cx="250.2" cy="268.5" r="2.7" fill="#e6e6e6"/>
<circle cx="254.1" cy="267.2" r="2.7" fill="#e6e6e6"/>
<circle cx="260.3" cy="267.7" r="2.7" fill="#e6e6e6"/>
<circle cx="265.9" cy="267.6" r="2.7" fill="#e6e6e6"/>
<circle cx="149.8" cy="271.0" r="2.7" fill="#e6e6e6"/>
<circle cx="154.8" cy="272.6" r="2.7" fill="#e6e6e6"/>
<circle cx="160.4" cy="272.1" r="2.7" fill="#e6e6e6"/>
<circle cx="164.6" cy="271.0" r="2.7" fill="#e6e6e6"/>
<circle cx="170.7" cy="271.4" r="2.7" fill="#e6e6e6"/>
<circle cx="175.4" cy="272.5" r="2.7" fill="#e6e6e6"/>
<circle cx="181.8" cy="272.5" r="2.7" fill="#e6e6e6"/>
<circle cx="187.0" cy="271.3" r="2.7" fill="#e6e6e6"/>
<circle cx="192.1" cy="272.9" r="2.7" fill="#e6e6e6"/>
<circle cx="197.5" cy="270.9" r="2.7" fill="#e6e6e6"/>
<circle cx="201.4" cy="272.9" r="2.7" fill="#e6e6e6"/>
<circle cx="206.0" cy="270.7" r="2.7" fill="#e6e6e6"/>
<circle cx="212.5" cy="270.7" r="2.7" fill="#e6e6e6"/>
<circle cx="216.4" cy="272.0" r="2.7" fill="#e6e6e6"/>
<circle cx="222.9" cy="271.2" r="2.7" fill="#e6e6e6"/>
<circle cx="227.8" cy="273.0" r="2.7" fill="#e6e6e6"/>
<circle cx="231.2" cy="272.7" r="2.7" fill="#e6e6e6"/>
<circle cx="237.0" cy="270.7" r="2.7" fill="#e6e6e6"/>
<circle cx="243.0" cy="270.8" r="2.7" fill="#e6e6e6"/>
<circle cx="246.8" cy="272.6" r="2.7" fill="#e6e6e6"/>
<circle cx="251.5" cy="271.6" r="2.7" fill="#e6e6e6"/>
<circle cx="258.2" cy="271.4" r="2.7" fill="#e6e6e6"/>
<circle cx="262.9" cy="272.9" r="2.7" fill="#e6e6e6"/>
<circle cx="267.6" cy="271.9" r="2.7" fill="#e6e6e6"/>
<circle cx="152.9" cy="276.4" r="2.7" fill="#e6e6e6"/>
<circle cx="158.5" cy="276.3" r="2.7" fill="#e6e6e6"/>
<circle cx="163.8" cy="275.9" r="2.7" fill="#e6e6e6"/>
<circle cx="169.0" cy="275.4" r="2.7" fill="#e6e6e6"/>
<circle cx="174.7" cy="277.5" r="2.7" fill="#e6e6e6"/>
<circle cx="177.4" cy="277.2" r="2.7" fill="#e6e6e6"/>
<circle cx="184.7" cy="276.9" r="2.7" fill="#e6e6e6"/>
<circle cx="189.4" cy="276.5" r="2.7" fill="#e6e6e6"/>
<circle cx="200.1" cy="277.0" r="2.7" fill="#e6e6e6"/>
<circle cx="204.9" cy="275.8" r="2.7" fill="#e6e6e6"/>
<circle cx="208.8" cy="275.6" r="2.7" fill="#e6e6e6"/>
<circle cx="218.3" cy="277.2" r="2.7" fill="#e6e6e6"/>
<circle cx="223.5" cy="276.4" r="2.7" fill="#e6e6e6"/>
<circle cx="229.6" cy="275.6" r="2.7" fill="#e6e6e6"/>
<circle cx="235.7" cy="276.0" r="2.7" fill="#e6e6e6"/>
<circle cx="240.9" cy="275.6" r="2.7" fill="#e6e6e6"/>
<circle cx="244.9" cy="277.1" r="2.7" fill="#e6e6e6"/>
<circle cx="250.1" cy="276.0" r="2.7" fill="#e6e6e6"/>
<circle cx="256.2" cy="276.7" r="2.7" fill="#e6e6e6"/>
<circle cx="161.2" cy="280.0" r="2.7" fill="#e6e6e6"/>
<circle cx="171.7" cy="281.9" r="2.7" fill="#e6e6e6"/>
<circle cx="181.5" cy="280.4" r="2.7" fill="#e6e6e6"/>
<circle cx="187.3" cy="281.7" r="2.7" fill="#e6e6e6"/>
<circle cx="192.5" cy="281.0" r="2.7" fill="#e6e6e6"/>
<circle cx="195.2" cy="279.7" r="2.7" fill="#e6e6e6"/>
<circle cx="205.9" cy="281.4" r="2.7" fill="#e6e6e6"/>
<circle cx="211.0" cy="280.2" r="2.7" fill="#e6e6e6"/>
<circle cx="217.7" cy="280.0" r="2.7" fill="#e6e6e6"/>
<circle cx="183.0" cy="284.6" r="2.7" fill="#e6e6e6"/>
<circle cx="188.4" cy="284.6" r="2.7" fill="#e6e6e6"/>
<circle cx="192.9" cy="285.1" r="2.7" fill="#e6e6e6"/>
<circle cx="199.1" cy="285.4" r="2.7" fill="#e6e6e6"/>
<circle cx="203.9" cy="286.2" r="2.7" fill="#e6e6e6"/>
<circle cx="210.3" cy="285.0" r="2.7" fill="#e6e6e6"/>
<circle cx="190.5" cy="271.8" r="2.95" fill="#4a78c8" stroke="#1a1a1a" stroke-width="0.75"/>
<circle cx="247.6" cy="277.6" r="2.95" fill="#d3261c" stroke="#1a1a1a" stroke-width="0.75"/>
<circle cx="219.0" cy="262.1" r="2.95" fill="#f6f0b0" stroke="#1a1a1a" stroke-width="0.75"/>
<circle cx="175.2" cy="268.0" r="2.95" fill="#e0f2fa" stroke="#1a1a1a" stroke-width="0.75"/>
<circle cx="261.4" cy="266.9" r="2.95" fill="#80b8e2" stroke="#1a1a1a" stroke-width="0.75"/>
<circle cx="188.4" cy="258.7" r="2.95" fill="#ef7b43" stroke="#1a1a1a" stroke-width="0.75"/>
<circle cx="217.6" cy="265.2" r="2.95" fill="#aed8f0" stroke="#1a1a1a" stroke-width="0.75"/>
<circle cx="209.2" cy="281.4" r="2.95" fill="#fbd98a" stroke="#1a1a1a" stroke-width="0.75"/>
<circle cx="214.8" cy="266.2" r="2.95" fill="#f7aa5c" stroke="#1a1a1a" stroke-width="0.75"/>
<path d="M142.84,180.8V325.35H291.9" fill="none" stroke="#404040" stroke-width="1.0"/>
<line x1="140.0" y1="307.57" x2="142.8" y2="307.57" stroke="#3a3a3a" stroke-width="0.8"/>
<line x1="140.0" y1="288.85" x2="142.8" y2="288.85" stroke="#3a3a3a" stroke-width="0.8"/>
<line x1="140.0" y1="270.12" x2="142.8" y2="270.12" stroke="#3a3a3a" stroke-width="0.8"/>
<line x1="140.0" y1="251.40" x2="142.8" y2="251.40" stroke="#3a3a3a" stroke-width="0.8"/>
<line x1="140.0" y1="232.68" x2="142.8" y2="232.68" stroke="#3a3a3a" stroke-width="0.8"/>
<line x1="140.0" y1="213.95" x2="142.8" y2="213.95" stroke="#3a3a3a" stroke-width="0.8"/>
<line x1="140.0" y1="195.22" x2="142.8" y2="195.22" stroke="#3a3a3a" stroke-width="0.8"/>
<line x1="147.40" y1="325.35" x2="147.40" y2="328.6" stroke="#3a3a3a" stroke-width="0.8"/>
<line x1="187.30" y1="325.35" x2="187.30" y2="328.6" stroke="#3a3a3a" stroke-width="0.8"/>
<line x1="227.20" y1="325.35" x2="227.20" y2="328.6" stroke="#3a3a3a" stroke-width="0.8"/>
<line x1="267.10" y1="325.35" x2="267.10" y2="328.6" stroke="#3a3a3a" stroke-width="0.8"/>
</svg>
<div class="t" style="left:-63.10px;width:200px;text-align:right;top:304.01px;font-size:8.4px;color:#1a1a1a;font-weight:400;letter-spacing:0px;transform:scaleX(1.067);transform-origin:100% 0">2.5</div>
<div class="t" style="left:-63.10px;width:200px;text-align:right;top:285.29px;font-size:8.4px;color:#1a1a1a;font-weight:400;letter-spacing:0px;transform:scaleX(1.067);transform-origin:100% 0">5.0</div>
<div class="t" style="left:-63.10px;width:200px;text-align:right;top:266.56px;font-size:8.4px;color:#1a1a1a;font-weight:400;letter-spacing:0px;transform:scaleX(1.067);transform-origin:100% 0">7.5</div>
<div class="t" style="left:-63.10px;width:200px;text-align:right;top:247.84px;font-size:8.4px;color:#1a1a1a;font-weight:400;letter-spacing:0px;transform:scaleX(1.067);transform-origin:100% 0">10.0</div>
<div class="t" style="left:-63.10px;width:200px;text-align:right;top:229.11px;font-size:8.4px;color:#1a1a1a;font-weight:400;letter-spacing:0px;transform:scaleX(1.067);transform-origin:100% 0">12.5</div>
<div class="t" style="left:-63.10px;width:200px;text-align:right;top:210.39px;font-size:8.4px;color:#1a1a1a;font-weight:400;letter-spacing:0px;transform:scaleX(1.067);transform-origin:100% 0">15.0</div>
<div class="t" style="left:-63.10px;width:200px;text-align:right;top:191.66px;font-size:8.4px;color:#1a1a1a;font-weight:400;letter-spacing:0px;transform:scaleX(1.067);transform-origin:100% 0">17.5</div>
<div class="t" style="left:47.90px;width:200px;text-align:center;top:330.89px;font-size:8.4px;color:#1a1a1a;font-weight:400;letter-spacing:0px;transform:scaleX(1.067);transform-origin:50% 0">0</div>
<div class="t" style="left:87.80px;width:200px;text-align:center;top:330.89px;font-size:8.4px;color:#1a1a1a;font-weight:400;letter-spacing:0px;transform:scaleX(1.067);transform-origin:50% 0">20</div>
<div class="t" style="left:127.70px;width:200px;text-align:center;top:330.89px;font-size:8.4px;color:#1a1a1a;font-weight:400;letter-spacing:0px;transform:scaleX(1.067);transform-origin:50% 0">40</div>
<div class="t" style="left:167.60px;width:200px;text-align:center;top:330.89px;font-size:8.4px;color:#1a1a1a;font-weight:400;letter-spacing:0px;transform:scaleX(1.067);transform-origin:50% 0">60</div>
<svg class="plot" style="left:0;top:0" width="685" height="357" viewBox="0 0 685 357">
<circle cx="394.7" cy="189.7" r="2.7" fill="#e6e6e6"/>
<circle cx="426.6" cy="192.4" r="2.7" fill="#e6e6e6"/>
<circle cx="394.7" cy="200.2" r="2.7" fill="#e6e6e6"/>
<circle cx="397" cy="201.2" r="2.7" fill="#e6e6e6"/>
<circle cx="422.5" cy="199.5" r="2.7" fill="#e6e6e6"/>
<circle cx="378.8" cy="204.6" r="2.7" fill="#e6e6e6"/>
<circle cx="390.7" cy="205.5" r="2.7" fill="#e6e6e6"/>
<circle cx="424.5" cy="206.2" r="2.7" fill="#e6e6e6"/>
<circle cx="393" cy="209.8" r="2.7" fill="#e6e6e6"/>
<circle cx="395" cy="210.2" r="2.7" fill="#e6e6e6"/>
<circle cx="405.1" cy="210.9" r="2.7" fill="#e6e6e6"/>
<circle cx="410.4" cy="208.9" r="2.7" fill="#e6e6e6"/>
<circle cx="407.7" cy="213.6" r="2.7" fill="#e6e6e6"/>
<circle cx="420.5" cy="212.9" r="2.7" fill="#e6e6e6"/>
<circle cx="391.2" cy="215.2" r="2.7" fill="#e6e6e6"/>
<circle cx="392.3" cy="212.9" r="2.7" fill="#e6e6e6"/>
<circle cx="378.8" cy="218.7" r="2.7" fill="#e6e6e6"/>
<circle cx="425.9" cy="217" r="2.7" fill="#e6e6e6"/>
<circle cx="421.9" cy="220.3" r="2.7" fill="#e6e6e6"/>
<circle cx="384.9" cy="223.7" r="2.7" fill="#e6e6e6"/>
<circle cx="390.7" cy="223" r="2.7" fill="#e6e6e6"/>
<circle cx="395" cy="221.9" r="2.7" fill="#e6e6e6"/>
<circle cx="401" cy="224.4" r="2.7" fill="#e6e6e6"/>
<circle cx="404.4" cy="225" r="2.7" fill="#e6e6e6"/>
<circle cx="418.5" cy="221.7" r="2.7" fill="#e6e6e6"/>
<circle cx="423.2" cy="223" r="2.7" fill="#e6e6e6"/>
<circle cx="413.1" cy="226.4" r="2.7" fill="#e6e6e6"/>
<circle cx="396.3" cy="226.4" r="2.7" fill="#e6e6e6"/>
<circle cx="438.8" cy="188.1" r="2.7" fill="#e6e6e6"/>
<circle cx="443.5" cy="188.3" r="2.7" fill="#e6e6e6"/>
<circle cx="446.8" cy="188.1" r="2.7" fill="#e6e6e6"/>
<circle cx="452.9" cy="190.5" r="2.7" fill="#e6e6e6"/>
<circle cx="458.9" cy="187.8" r="2.7" fill="#e6e6e6"/>
<circle cx="456.9" cy="193.4" r="2.7" fill="#e6e6e6"/>
<circle cx="467.7" cy="186.5" r="2.7" fill="#e6e6e6"/>
<circle cx="472.4" cy="186.1" r="2.7" fill="#e6e6e6"/>
<circle cx="467" cy="190.1" r="2.7" fill="#e6e6e6"/>
<circle cx="471" cy="189.4" r="2.7" fill="#e6e6e6"/>
<circle cx="476.4" cy="189.1" r="2.7" fill="#e6e6e6"/>
<circle cx="473" cy="196.1" r="2.7" fill="#e6e6e6"/>
<circle cx="478.4" cy="197.5" r="2.7" fill="#e6e6e6"/>
<circle cx="492.6" cy="196.8" r="2.7" fill="#e6e6e6"/>
<circle cx="448.8" cy="196.1" r="2.7" fill="#e6e6e6"/>
<circle cx="450.9" cy="198.8" r="2.7" fill="#e6e6e6"/>
<circle cx="468.3" cy="200.2" r="2.7" fill="#e6e6e6"/>
<circle cx="473" cy="202.2" r="2.7" fill="#e6e6e6"/>
<circle cx="478.8" cy="203.1" r="2.7" fill="#e6e6e6"/>
<circle cx="489.2" cy="202.2" r="2.7" fill="#e6e6e6"/>
<circle cx="442.8" cy="203.5" r="2.7" fill="#e6e6e6"/>
<circle cx="445.5" cy="204.9" r="2.7" fill="#e6e6e6"/>
<circle cx="458.7" cy="202.2" r="2.7" fill="#e6e6e6"/>
<circle cx="458.9" cy="204.9" r="2.7" fill="#e6e6e6"/>
<circle cx="446.8" cy="207.6" r="2.7" fill="#e6e6e6"/>
<circle cx="452.9" cy="208" r="2.7" fill="#e6e6e6"/>
<circle cx="457.6" cy="208.9" r="2.7" fill="#e6e6e6"/>
<circle cx="468.3" cy="211.6" r="2.7" fill="#e6e6e6"/>
<circle cx="481.1" cy="210.3" r="2.7" fill="#e6e6e6"/>
<circle cx="448.2" cy="212.3" r="2.7" fill="#e6e6e6"/>
<circle cx="446.8" cy="215" r="2.7" fill="#e6e6e6"/>
<circle cx="463" cy="214.3" r="2.7" fill="#e6e6e6"/>
<circle cx="456.9" cy="216.3" r="2.7" fill="#e6e6e6"/>
<circle cx="459.6" cy="219.7" r="2.7" fill="#e6e6e6"/>
<circle cx="444.8" cy="220.3" r="2.7" fill="#e6e6e6"/>
<circle cx="475.1" cy="216.3" r="2.7" fill="#e6e6e6"/>
<circle cx="471" cy="218.3" r="2.7" fill="#e6e6e6"/>
<circle cx="468.3" cy="219.7" r="2.7" fill="#e6e6e6"/>
<circle cx="479.8" cy="220.3" r="2.7" fill="#e6e6e6"/>
<circle cx="499.3" cy="217.7" r="2.7" fill="#e6e6e6"/>
<circle cx="495.2" cy="220.3" r="2.7" fill="#e6e6e6"/>
<circle cx="429.3" cy="216.3" r="2.7" fill="#e6e6e6"/>
<circle cx="429.3" cy="223" r="2.7" fill="#e6e6e6"/>
<circle cx="441.4" cy="223" r="2.7" fill="#e6e6e6"/>
<circle cx="448.2" cy="223.7" r="2.7" fill="#e6e6e6"/>
<circle cx="456.9" cy="224.4" r="2.7" fill="#e6e6e6"/>
<circle cx="489.2" cy="225.7" r="2.7" fill="#e6e6e6"/>
<circle cx="428" cy="192.8" r="2.7" fill="#e6e6e6"/>
<circle cx="362.7" cy="240.5" r="2.7" fill="#e6e6e6"/>
<circle cx="368.8" cy="253.9" r="2.7" fill="#e6e6e6"/>
<circle cx="364.7" cy="262" r="2.7" fill="#e6e6e6"/>
<circle cx="374.8" cy="264.7" r="2.7" fill="#e6e6e6"/>
<circle cx="378.8" cy="245.2" r="2.7" fill="#e6e6e6"/>
<circle cx="380.9" cy="239.1" r="2.7" fill="#e6e6e6"/>
<circle cx="377.5" cy="251.9" r="2.7" fill="#e6e6e6"/>
<circle cx="380.2" cy="256.6" r="2.7" fill="#e6e6e6"/>
<circle cx="483.8" cy="230.4" r="2.7" fill="#e6e6e6"/>
<circle cx="485.8" cy="232.4" r="2.7" fill="#e6e6e6"/>
<circle cx="490.5" cy="238.4" r="2.7" fill="#e6e6e6"/>
<circle cx="498.6" cy="235.1" r="2.7" fill="#e6e6e6"/>
<circle cx="498.6" cy="245.2" r="2.7" fill="#e6e6e6"/>
<circle cx="484.5" cy="246.5" r="2.7" fill="#e6e6e6"/>
<circle cx="489.2" cy="226.3" r="2.7" fill="#e6e6e6"/>
<circle cx="474.4" cy="249.9" r="2.7" fill="#e6e6e6"/>
<circle cx="478.4" cy="253.9" r="2.7" fill="#e6e6e6"/>
<circle cx="468.3" cy="249.9" r="2.7" fill="#e6e6e6"/>
<circle cx="468.3" cy="242.5" r="2.7" fill="#e6e6e6"/>
<circle cx="472.4" cy="239.8" r="2.7" fill="#e6e6e6"/>
<circle cx="480.4" cy="225" r="2.7" fill="#e6e6e6"/>
<circle cx="469.7" cy="264" r="2.7" fill="#e6e6e6"/>
<circle cx="467.7" cy="269.4" r="2.7" fill="#e6e6e6"/>
<circle cx="480.4" cy="270.7" r="2.7" fill="#e6e6e6"/>
<circle cx="372.8" cy="273.8" r="2.7" fill="#e6e6e6"/>
<circle cx="366.8" cy="281.8" r="2.7" fill="#e6e6e6"/>
<circle cx="362.7" cy="287.2" r="2.7" fill="#e6e6e6"/>
<circle cx="370.8" cy="286.1" r="2.7" fill="#e6e6e6"/>
<circle cx="374.8" cy="285.1" r="2.7" fill="#e6e6e6"/>
<circle cx="380.9" cy="281.8" r="2.7" fill="#e6e6e6"/>
<circle cx="380.9" cy="287.5" r="2.7" fill="#e6e6e6"/>
<circle cx="386.9" cy="280.1" r="2.7" fill="#e6e6e6"/>
<circle cx="386.9" cy="285.1" r="2.7" fill="#e6e6e6"/>
<circle cx="378.8" cy="293.5" r="2.7" fill="#e6e6e6"/>
<circle cx="380.9" cy="294.2" r="2.7" fill="#e6e6e6"/>
<circle cx="368.8" cy="299.3" r="2.7" fill="#e6e6e6"/>
<circle cx="388.3" cy="302.9" r="2.7" fill="#e6e6e6"/>
<circle cx="392.3" cy="300.2" r="2.7" fill="#e6e6e6"/>
<circle cx="394.3" cy="290.2" r="2.7" fill="#e6e6e6"/>
<circle cx="399" cy="300.2" r="2.7" fill="#e6e6e6"/>
<circle cx="403" cy="300.9" r="2.7" fill="#e6e6e6"/>
<circle cx="404.4" cy="304.3" r="2.7" fill="#e6e6e6"/>
<circle cx="409.8" cy="304.3" r="2.7" fill="#e6e6e6"/>
<circle cx="413.1" cy="302.3" r="2.7" fill="#e6e6e6"/>
<circle cx="413.1" cy="305.6" r="2.7" fill="#e6e6e6"/>
<circle cx="409.8" cy="291.5" r="2.7" fill="#e6e6e6"/>
<circle cx="412.5" cy="293.5" r="2.7" fill="#e6e6e6"/>
<circle cx="413.1" cy="295.5" r="2.7" fill="#e6e6e6"/>
<circle cx="420.5" cy="296.2" r="2.7" fill="#e6e6e6"/>
<circle cx="422.5" cy="289.5" r="2.7" fill="#e6e6e6"/>
<circle cx="424.5" cy="284.1" r="2.7" fill="#e6e6e6"/>
<circle cx="426.6" cy="275.4" r="2.7" fill="#e6e6e6"/>
<circle cx="415.8" cy="278.1" r="2.7" fill="#e6e6e6"/>
<circle cx="372.8" cy="317" r="2.7" fill="#e6e6e6"/>
<circle cx="395" cy="317" r="2.7" fill="#e6e6e6"/>
<circle cx="416.5" cy="316.8" r="2.7" fill="#e6e6e6"/>
<circle cx="429.3" cy="273.8" r="2.7" fill="#e6e6e6"/>
<circle cx="442.8" cy="271.6" r="2.7" fill="#e6e6e6"/>
<circle cx="450.9" cy="270.7" r="2.7" fill="#e6e6e6"/>
<circle cx="456.2" cy="272" r="2.7" fill="#e6e6e6"/>
<circle cx="461" cy="274.7" r="2.7" fill="#e6e6e6"/>
<circle cx="468.3" cy="272" r="2.7" fill="#e6e6e6"/>
<circle cx="481.1" cy="272" r="2.7" fill="#e6e6e6"/>
<circle cx="446.8" cy="278.3" r="2.7" fill="#e6e6e6"/>
<circle cx="448.8" cy="282.8" r="2.7" fill="#e6e6e6"/>
<circle cx="452.9" cy="286.4" r="2.7" fill="#e6e6e6"/>
<circle cx="454.9" cy="290.8" r="2.7" fill="#e6e6e6"/>
<circle cx="434.7" cy="287.8" r="2.7" fill="#e6e6e6"/>
<circle cx="440.8" cy="287.8" r="2.7" fill="#e6e6e6"/>
<circle cx="475.1" cy="287.8" r="2.7" fill="#e6e6e6"/>
<circle cx="496.6" cy="288.6" r="2.7" fill="#e6e6e6"/>
<circle cx="467" cy="293.1" r="2.7" fill="#e6e6e6"/>
<circle cx="442.8" cy="296.9" r="2.7" fill="#e6e6e6"/>
<circle cx="446.8" cy="297.6" r="2.7" fill="#e6e6e6"/>
<circle cx="461" cy="305.6" r="2.7" fill="#e6e6e6"/>
<circle cx="452.9" cy="315.7" r="2.7" fill="#e6e6e6"/>
<circle cx="461" cy="314.1" r="2.7" fill="#e6e6e6"/>
<circle cx="469" cy="315" r="2.7" fill="#e6e6e6"/>
<circle cx="381.4" cy="232.1" r="2.7" fill="#e6e6e6"/>
<circle cx="386.4" cy="231.1" r="2.7" fill="#e6e6e6"/>
<circle cx="393.6" cy="230.8" r="2.7" fill="#e6e6e6"/>
<circle cx="398.6" cy="232.0" r="2.7" fill="#e6e6e6"/>
<circle cx="404.7" cy="230.5" r="2.7" fill="#e6e6e6"/>
<circle cx="416.3" cy="230.9" r="2.7" fill="#e6e6e6"/>
<circle cx="422.5" cy="230.7" r="2.7" fill="#e6e6e6"/>
<circle cx="427.6" cy="231.8" r="2.7" fill="#e6e6e6"/>
<circle cx="432.2" cy="230.0" r="2.7" fill="#e6e6e6"/>
<circle cx="445.7" cy="229.8" r="2.7" fill="#e6e6e6"/>
<circle cx="450.5" cy="231.4" r="2.7" fill="#e6e6e6"/>
<circle cx="457.6" cy="231.8" r="2.7" fill="#e6e6e6"/>
<circle cx="382.4" cy="235.4" r="2.7" fill="#e6e6e6"/>
<circle cx="390.5" cy="234.6" r="2.7" fill="#e6e6e6"/>
<circle cx="399.9" cy="237.5" r="2.7" fill="#e6e6e6"/>
<circle cx="406.5" cy="234.7" r="2.7" fill="#e6e6e6"/>
<circle cx="417.5" cy="235.2" r="2.7" fill="#e6e6e6"/>
<circle cx="423.8" cy="236.4" r="2.7" fill="#e6e6e6"/>
<circle cx="435.1" cy="236.2" r="2.7" fill="#e6e6e6"/>
<circle cx="440.5" cy="235.1" r="2.7" fill="#e6e6e6"/>
<circle cx="448.1" cy="237.3" r="2.7" fill="#e6e6e6"/>
<circle cx="454.3" cy="234.7" r="2.7" fill="#e6e6e6"/>
<circle cx="459.5" cy="234.8" r="2.7" fill="#e6e6e6"/>
<circle cx="465.4" cy="235.7" r="2.7" fill="#e6e6e6"/>
<circle cx="381.8" cy="242.0" r="2.7" fill="#e6e6e6"/>
<circle cx="387.6" cy="240.8" r="2.7" fill="#e6e6e6"/>
<circle cx="399.4" cy="241.2" r="2.7" fill="#e6e6e6"/>
<circle cx="403.2" cy="241.2" r="2.7" fill="#e6e6e6"/>
<circle cx="408.7" cy="239.6" r="2.7" fill="#e6e6e6"/>
<circle cx="416.2" cy="240.2" r="2.7" fill="#e6e6e6"/>
<circle cx="428.7" cy="242.4" r="2.7" fill="#e6e6e6"/>
<circle cx="433.5" cy="240.6" r="2.7" fill="#e6e6e6"/>
<circle cx="437.7" cy="241.0" r="2.7" fill="#e6e6e6"/>
<circle cx="445.1" cy="241.6" r="2.7" fill="#e6e6e6"/>
<circle cx="449.7" cy="240.0" r="2.7" fill="#e6e6e6"/>
<circle cx="456.5" cy="242.4" r="2.7" fill="#e6e6e6"/>
<circle cx="462.8" cy="242.5" r="2.7" fill="#e6e6e6"/>
<circle cx="467.2" cy="240.8" r="2.7" fill="#e6e6e6"/>
<circle cx="378.5" cy="247.4" r="2.7" fill="#e6e6e6"/>
<circle cx="383.9" cy="246.6" r="2.7" fill="#e6e6e6"/>
<circle cx="390.8" cy="246.8" r="2.7" fill="#e6e6e6"/>
<circle cx="407.9" cy="246.8" r="2.7" fill="#e6e6e6"/>
<circle cx="412.1" cy="246.7" r="2.7" fill="#e6e6e6"/>
<circle cx="425.0" cy="245.4" r="2.7" fill="#e6e6e6"/>
<circle cx="431.4" cy="245.3" r="2.7" fill="#e6e6e6"/>
<circle cx="435.6" cy="245.2" r="2.7" fill="#e6e6e6"/>
<circle cx="440.8" cy="247.0" r="2.7" fill="#e6e6e6"/>
<circle cx="446.9" cy="247.5" r="2.7" fill="#e6e6e6"/>
<circle cx="453.9" cy="246.8" r="2.7" fill="#e6e6e6"/>
<circle cx="457.7" cy="247.3" r="2.7" fill="#e6e6e6"/>
<circle cx="464.0" cy="245.1" r="2.7" fill="#e6e6e6"/>
<circle cx="381.2" cy="252.6" r="2.7" fill="#e6e6e6"/>
<circle cx="388.2" cy="250.4" r="2.7" fill="#e6e6e6"/>
<circle cx="403.1" cy="249.7" r="2.7" fill="#e6e6e6"/>
<circle cx="409.9" cy="250.3" r="2.7" fill="#e6e6e6"/>
<circle cx="415.5" cy="251.6" r="2.7" fill="#e6e6e6"/>
<circle cx="421.1" cy="251.5" r="2.7" fill="#e6e6e6"/>
<circle cx="428.6" cy="251.5" r="2.7" fill="#e6e6e6"/>
<circle cx="432.4" cy="250.1" r="2.7" fill="#e6e6e6"/>
<circle cx="438.3" cy="252.1" r="2.7" fill="#e6e6e6"/>
<circle cx="444.0" cy="250.9" r="2.7" fill="#e6e6e6"/>
<circle cx="451.2" cy="249.8" r="2.7" fill="#e6e6e6"/>
<circle cx="455.8" cy="250.2" r="2.7" fill="#e6e6e6"/>
<circle cx="468.7" cy="250.7" r="2.7" fill="#e6e6e6"/>
<circle cx="383.3" cy="257.0" r="2.7" fill="#e6e6e6"/>
<circle cx="395.5" cy="255.4" r="2.7" fill="#e6e6e6"/>
<circle cx="400.4" cy="257.3" r="2.7" fill="#e6e6e6"/>
<circle cx="408.3" cy="255.0" r="2.7" fill="#e6e6e6"/>
<circle cx="412.6" cy="256.8" r="2.7" fill="#e6e6e6"/>
<circle cx="418.6" cy="254.8" r="2.7" fill="#e6e6e6"/>
<circle cx="425.1" cy="255.0" r="2.7" fill="#e6e6e6"/>
<circle cx="436.9" cy="256.7" r="2.7" fill="#e6e6e6"/>
<circle cx="441.5" cy="256.8" r="2.7" fill="#e6e6e6"/>
<circle cx="448.8" cy="257.4" r="2.7" fill="#e6e6e6"/>
<circle cx="453.9" cy="256.3" r="2.7" fill="#e6e6e6"/>
<circle cx="459.1" cy="256.8" r="2.7" fill="#e6e6e6"/>
<circle cx="465.4" cy="256.1" r="2.7" fill="#e6e6e6"/>
<circle cx="381.7" cy="260.1" r="2.7" fill="#e6e6e6"/>
<circle cx="388.0" cy="262.1" r="2.7" fill="#e6e6e6"/>
<circle cx="398.2" cy="262.2" r="2.7" fill="#e6e6e6"/>
<circle cx="404.6" cy="262.2" r="2.7" fill="#e6e6e6"/>
<circle cx="409.1" cy="262.1" r="2.7" fill="#e6e6e6"/>
<circle cx="422.2" cy="260.0" r="2.7" fill="#e6e6e6"/>
<circle cx="439.2" cy="260.1" r="2.7" fill="#e6e6e6"/>
<circle cx="449.6" cy="262.0" r="2.7" fill="#e6e6e6"/>
<circle cx="456.2" cy="260.5" r="2.7" fill="#e6e6e6"/>
<circle cx="462.0" cy="260.6" r="2.7" fill="#e6e6e6"/>
<circle cx="384.3" cy="266.9" r="2.7" fill="#e6e6e6"/>
<circle cx="390.9" cy="265.4" r="2.7" fill="#e6e6e6"/>
<circle cx="396.6" cy="265.3" r="2.7" fill="#e6e6e6"/>
<circle cx="402.1" cy="267.6" r="2.7" fill="#e6e6e6"/>
<circle cx="407.1" cy="265.8" r="2.7" fill="#e6e6e6"/>
<circle cx="417.7" cy="264.7" r="2.7" fill="#e6e6e6"/>
<circle cx="423.6" cy="265.2" r="2.7" fill="#e6e6e6"/>
<circle cx="429.3" cy="266.3" r="2.7" fill="#e6e6e6"/>
<circle cx="437.1" cy="265.4" r="2.7" fill="#e6e6e6"/>
<circle cx="441.5" cy="266.3" r="2.7" fill="#e6e6e6"/>
<circle cx="449.1" cy="265.6" r="2.7" fill="#e6e6e6"/>
<circle cx="459.3" cy="267.7" r="2.7" fill="#e6e6e6"/>
<circle cx="385.3" cy="269.9" r="2.7" fill="#e6e6e6"/>
<circle cx="393.6" cy="271.0" r="2.7" fill="#e6e6e6"/>
<circle cx="397.6" cy="270.5" r="2.7" fill="#e6e6e6"/>
<circle cx="414.8" cy="272.2" r="2.7" fill="#e6e6e6"/>
<circle cx="420.8" cy="269.8" r="2.7" fill="#e6e6e6"/>
<circle cx="427.5" cy="272.2" r="2.7" fill="#e6e6e6"/>
<circle cx="390.2" cy="276.9" r="2.7" fill="#e6e6e6"/>
<circle cx="396.3" cy="275.8" r="2.7" fill="#e6e6e6"/>
<circle cx="401.3" cy="276.6" r="2.7" fill="#e6e6e6"/>
<circle cx="407.5" cy="275.0" r="2.7" fill="#e6e6e6"/>
<circle cx="422.9" cy="277.4" r="2.7" fill="#e6e6e6"/>
<circle cx="391.1" cy="281.9" r="2.7" fill="#e6e6e6"/>
<circle cx="398.4" cy="280.0" r="2.7" fill="#e6e6e6"/>
<circle cx="403.6" cy="280.6" r="2.7" fill="#e6e6e6"/>
<circle cx="411.3" cy="280.0" r="2.7" fill="#e6e6e6"/>
<circle cx="416.2" cy="280.6" r="2.7" fill="#e6e6e6"/>
<circle cx="421.8" cy="280.0" r="2.7" fill="#e6e6e6"/>
<circle cx="396.2" cy="287.7" r="2.7" fill="#e6e6e6"/>
<circle cx="400.6" cy="285.4" r="2.7" fill="#e6e6e6"/>
<circle cx="407.9" cy="286.7" r="2.7" fill="#e6e6e6"/>
<circle cx="412.8" cy="287.3" r="2.7" fill="#e6e6e6"/>
<circle cx="417.8" cy="286.5" r="2.7" fill="#e6e6e6"/>
<line x1="379.6" y1="273.7" x2="496.4" y2="217.1" stroke="#b1a2d8" stroke-width="1.1"/>
<circle cx="404.9" cy="253.2" r="2.95" fill="#4a78c8" stroke="#1a1a1a" stroke-width="0.75"/>
<circle cx="461.3" cy="241.1" r="2.95" fill="#d3261c" stroke="#1a1a1a" stroke-width="0.75"/>
<circle cx="433.0" cy="248.3" r="2.95" fill="#f6f0b0" stroke="#1a1a1a" stroke-width="0.75"/>
<circle cx="388.4" cy="263.7" r="2.95" fill="#e0f2fa" stroke="#1a1a1a" stroke-width="0.75"/>
<circle cx="475.2" cy="226.8" r="2.95" fill="#80b8e2" stroke="#1a1a1a" stroke-width="0.75"/>
<circle cx="401.9" cy="255.2" r="2.95" fill="#ef7b43" stroke="#1a1a1a" stroke-width="0.75"/>
<circle cx="430.5" cy="249.6" r="2.95" fill="#aed8f0" stroke="#1a1a1a" stroke-width="0.75"/>
<circle cx="422.6" cy="265.1" r="2.95" fill="#fbd98a" stroke="#1a1a1a" stroke-width="0.75"/>
<circle cx="428.5" cy="254.8" r="2.95" fill="#f7aa5c" stroke="#1a1a1a" stroke-width="0.75"/>
<path d="M356.05,179.45V325.35H505.7" fill="none" stroke="#404040" stroke-width="1.0"/>
<line x1="353.2" y1="319.60" x2="356.05" y2="319.60" stroke="#3a3a3a" stroke-width="0.8"/>
<line x1="353.2" y1="297.60" x2="356.05" y2="297.60" stroke="#3a3a3a" stroke-width="0.8"/>
<line x1="353.2" y1="275.60" x2="356.05" y2="275.60" stroke="#3a3a3a" stroke-width="0.8"/>
<line x1="353.2" y1="253.60" x2="356.05" y2="253.60" stroke="#3a3a3a" stroke-width="0.8"/>
<line x1="353.2" y1="231.60" x2="356.05" y2="231.60" stroke="#3a3a3a" stroke-width="0.8"/>
<line x1="353.2" y1="209.60" x2="356.05" y2="209.60" stroke="#3a3a3a" stroke-width="0.8"/>
<line x1="353.2" y1="187.60" x2="356.05" y2="187.60" stroke="#3a3a3a" stroke-width="0.8"/>
<line x1="360.50" y1="325.35" x2="360.50" y2="328.6" stroke="#3a3a3a" stroke-width="0.8"/>
<line x1="400.50" y1="325.35" x2="400.50" y2="328.6" stroke="#3a3a3a" stroke-width="0.8"/>
<line x1="440.50" y1="325.35" x2="440.50" y2="328.6" stroke="#3a3a3a" stroke-width="0.8"/>
<line x1="480.50" y1="325.35" x2="480.50" y2="328.6" stroke="#3a3a3a" stroke-width="0.8"/>
</svg>
<div class="t" style="left:149.70px;width:200px;text-align:right;top:316.04px;font-size:8.4px;color:#1a1a1a;font-weight:400;letter-spacing:0px;transform:scaleX(1.067);transform-origin:100% 0">0</div>
<div class="t" style="left:149.70px;width:200px;text-align:right;top:294.04px;font-size:8.4px;color:#1a1a1a;font-weight:400;letter-spacing:0px;transform:scaleX(1.067);transform-origin:100% 0">25</div>
<div class="t" style="left:149.70px;width:200px;text-align:right;top:272.04px;font-size:8.4px;color:#1a1a1a;font-weight:400;letter-spacing:0px;transform:scaleX(1.067);transform-origin:100% 0">50</div>
<div class="t" style="left:149.70px;width:200px;text-align:right;top:250.04px;font-size:8.4px;color:#1a1a1a;font-weight:400;letter-spacing:0px;transform:scaleX(1.067);transform-origin:100% 0">75</div>
<div class="t" style="left:149.70px;width:200px;text-align:right;top:228.04px;font-size:8.4px;color:#1a1a1a;font-weight:400;letter-spacing:0px;transform:scaleX(1.067);transform-origin:100% 0">100</div>
<div class="t" style="left:149.70px;width:200px;text-align:right;top:206.04px;font-size:8.4px;color:#1a1a1a;font-weight:400;letter-spacing:0px;transform:scaleX(1.067);transform-origin:100% 0">125</div>
<div class="t" style="left:149.70px;width:200px;text-align:right;top:184.04px;font-size:8.4px;color:#1a1a1a;font-weight:400;letter-spacing:0px;transform:scaleX(1.067);transform-origin:100% 0">150</div>
<div class="t" style="left:261.00px;width:200px;text-align:center;top:330.89px;font-size:8.4px;color:#1a1a1a;font-weight:400;letter-spacing:0px;transform:scaleX(1.067);transform-origin:50% 0">0</div>
<div class="t" style="left:301.00px;width:200px;text-align:center;top:330.89px;font-size:8.4px;color:#1a1a1a;font-weight:400;letter-spacing:0px;transform:scaleX(1.067);transform-origin:50% 0">20</div>
<div class="t" style="left:341.00px;width:200px;text-align:center;top:330.89px;font-size:8.4px;color:#1a1a1a;font-weight:400;letter-spacing:0px;transform:scaleX(1.067);transform-origin:50% 0">40</div>
<div class="t" style="left:381.00px;width:200px;text-align:center;top:330.89px;font-size:8.4px;color:#1a1a1a;font-weight:400;letter-spacing:0px;transform:scaleX(1.067);transform-origin:50% 0">60</div>
<svg class="plot" style="left:0;top:0" width="685" height="357" viewBox="0 0 685 357">
<circle cx="530.6" cy="191.90" r="1.3" fill="#4a78c8" stroke="#222" stroke-width="0.4"/>
<circle cx="530.6" cy="198.85" r="1.3" fill="#d3261c" stroke="#222" stroke-width="0.4"/>
<circle cx="530.6" cy="205.80" r="1.3" fill="#f6f0b0" stroke="#222" stroke-width="0.4"/>
<circle cx="530.6" cy="212.75" r="1.3" fill="#e0f2fa" stroke="#222" stroke-width="0.4"/>
<circle cx="530.6" cy="219.70" r="1.3" fill="#80b8e2" stroke="#222" stroke-width="0.4"/>
<circle cx="530.6" cy="226.65" r="1.3" fill="#ef7b43" stroke="#222" stroke-width="0.4"/>
<circle cx="530.6" cy="233.60" r="1.3" fill="#aed8f0" stroke="#222" stroke-width="0.4"/>
<circle cx="530.6" cy="240.55" r="1.3" fill="#fbd98a" stroke="#222" stroke-width="0.4"/>
<circle cx="530.6" cy="247.50" r="1.3" fill="#f7aa5c" stroke="#222" stroke-width="0.4"/>
</svg>
<div class="leg"></div>
<div class="t" style="left:538.90px;top:188.97px;font-size:6.3px;color:#161616;font-weight:400;letter-spacing:0px;transform:scaleX(0.89);transform-origin:0 0">Northeast</div>
<div class="t" style="left:538.90px;top:195.92px;font-size:6.3px;color:#161616;font-weight:400;letter-spacing:0px;transform:scaleX(0.89);transform-origin:0 0">Midwest</div>
<div class="t" style="left:538.90px;top:202.87px;font-size:6.3px;color:#161616;font-weight:400;letter-spacing:0px;transform:scaleX(0.89);transform-origin:0 0">Ohio Valley</div>
<div class="t" style="left:538.90px;top:209.82px;font-size:6.3px;color:#161616;font-weight:400;letter-spacing:0px;transform:scaleX(0.89);transform-origin:0 0">Southeast</div>
<div class="t" style="left:538.90px;top:216.77px;font-size:6.3px;color:#161616;font-weight:400;letter-spacing:0px;transform:scaleX(0.89);transform-origin:0 0">Northern Rockies</div>
<div class="t" style="left:538.90px;top:223.72px;font-size:6.3px;color:#161616;font-weight:400;letter-spacing:0px;transform:scaleX(0.89);transform-origin:0 0">South</div>
<div class="t" style="left:538.90px;top:230.67px;font-size:6.3px;color:#161616;font-weight:400;letter-spacing:0px;transform:scaleX(0.89);transform-origin:0 0">Southwest</div>
<div class="t" style="left:538.90px;top:237.62px;font-size:6.3px;color:#161616;font-weight:400;letter-spacing:0px;transform:scaleX(0.89);transform-origin:0 0">Northwest</div>
<div class="t" style="left:538.90px;top:244.57px;font-size:6.3px;color:#161616;font-weight:400;letter-spacing:0px;transform:scaleX(0.89);transform-origin:0 0">West</div>
<div class="t" style="left:150.05px;top:182.51px;font-size:7.9px;color:#151515;font-weight:400;letter-spacing:0px;transform:scaleX(0.97);transform-origin:0 0">R<span style="position:relative;top:-0.42em;font-size:0.62em">2</span>=0.04</div>
<div class="t" style="left:150.05px;top:192.41px;font-size:7.9px;color:#a3a3a3;font-weight:400;letter-spacing:0px;transform:scaleX(0.97);transform-origin:0 0">R<span style="position:relative;top:-0.42em;font-size:0.62em">2</span>=0.03</div>
<div class="t" style="left:361.80px;top:183.81px;font-size:7.9px;color:#151515;font-weight:400;letter-spacing:0px;transform:scaleX(0.97);transform-origin:0 0">R<span style="position:relative;top:-0.42em;font-size:0.62em">2</span>=0.74</div>
<div class="t" style="left:361.80px;top:193.91px;font-size:7.9px;color:#a3a3a3;font-weight:400;letter-spacing:0px;transform:scaleX(0.97);transform-origin:0 0">R<span style="position:relative;top:-0.42em;font-size:0.62em">2</span>=0.14</div>
<div class="t" style="left:114.10px;width:200px;text-align:center;top:347.41px;font-size:9.2px;color:#222;font-weight:400;letter-spacing:0px;transform:scaleX(0.955);transform-origin:50% 0">Smoke covered days</div>
<div class="t" style="left:329.10px;width:200px;text-align:center;top:347.41px;font-size:9.2px;color:#222;font-weight:400;letter-spacing:0px;transform:scaleX(0.955);transform-origin:50% 0">Smoke covered days</div>
<div class="t" style="left:-0.40px;width:200px;text-align:center;top:248.50px;height:8.6px;line-height:8.6px;font-size:8.6px;color:#222;transform:rotate(-90deg) scaleX(1.0);transform-origin:50% 50%">Median PM2.5 (&micro;g/m<span style="position:relative;top:-0.42em;font-size:0.62em">3</span>)</div>
<div class="t" style="left:9.60px;width:200px;text-align:center;top:247.40px;height:8.6px;line-height:8.6px;font-size:8.6px;color:#222;transform:rotate(-90deg) scaleX(0.96);transform-origin:50% 50%">Jun.-Sep. 2021</div>
<div class="t" style="left:212.50px;width:200px;text-align:center;top:246.70px;height:8.6px;line-height:8.6px;font-size:8.6px;color:#222;transform:rotate(-90deg) scaleX(1.01);transform-origin:50% 50%">Total degree</div>
<div class="t" style="left:222.90px;width:200px;text-align:center;top:248.70px;height:8.6px;line-height:8.6px;font-size:8.6px;color:#222;transform:rotate(-90deg) scaleX(0.935);transform-origin:50% 50%">Jun. - Sep. 2021</div>
</body></html>
